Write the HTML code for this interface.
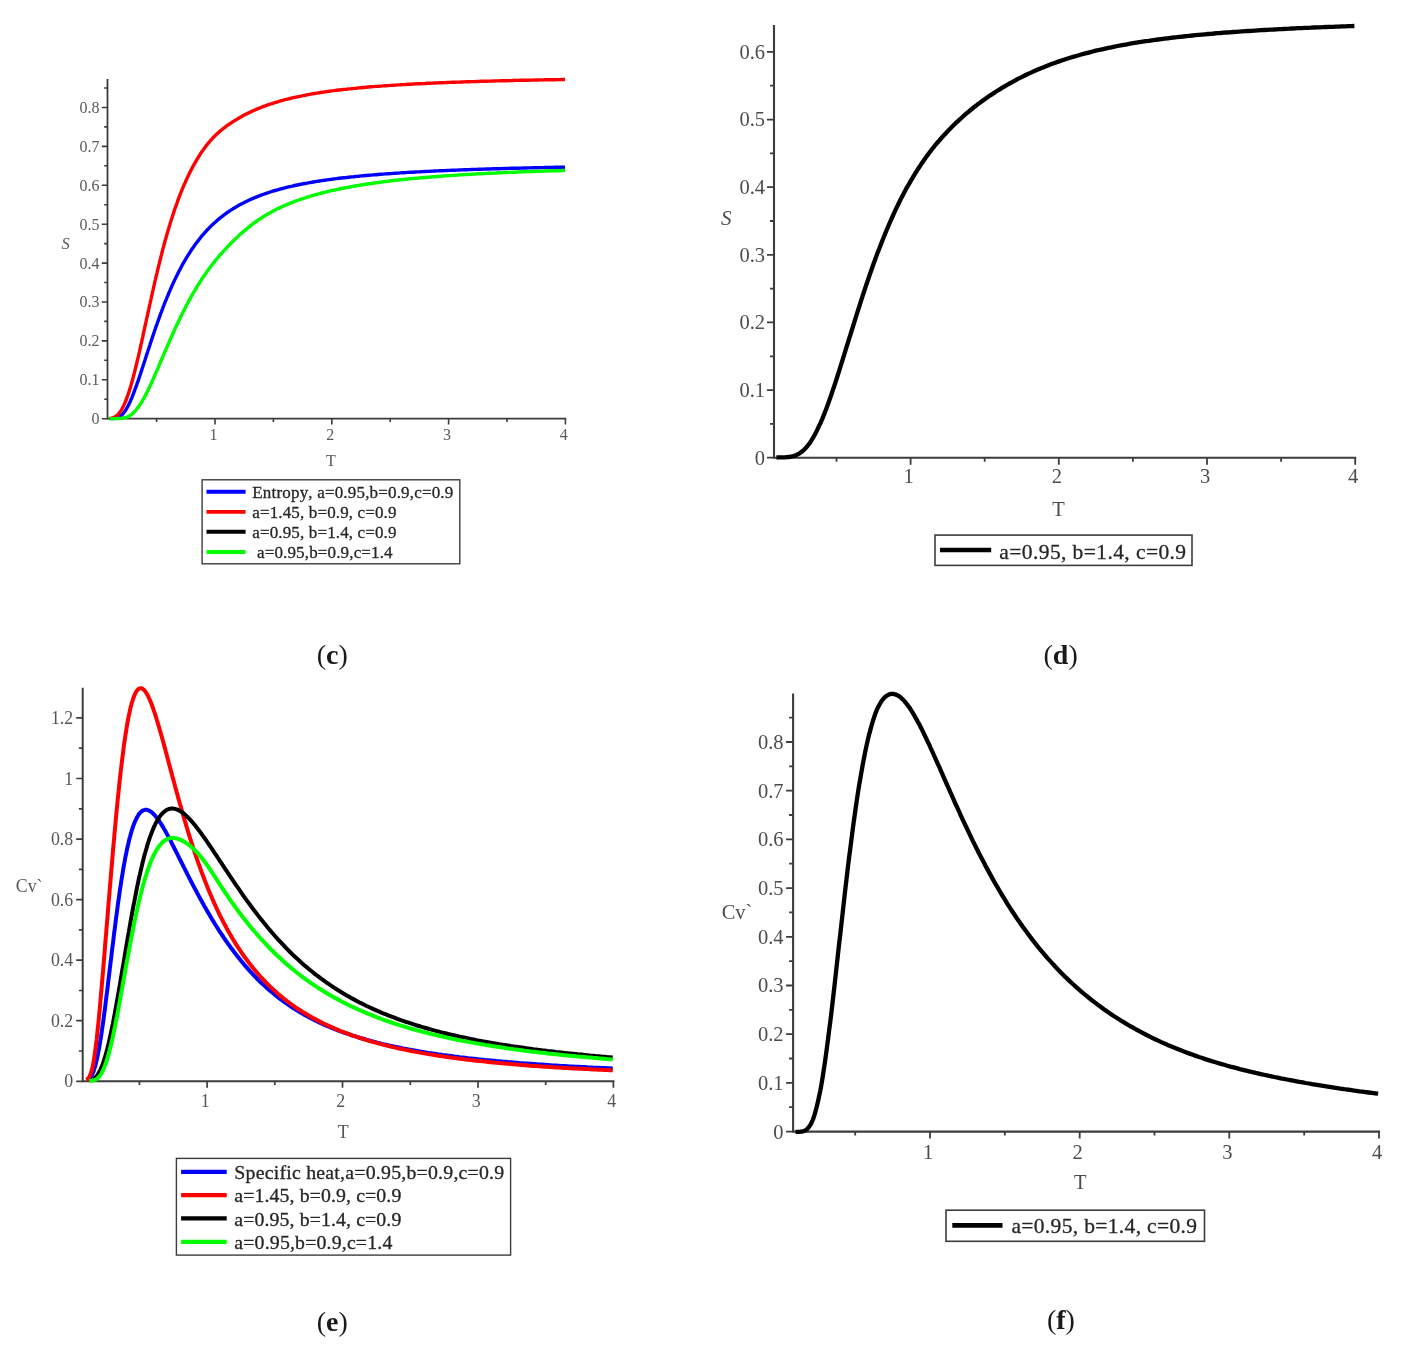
<!DOCTYPE html>
<html lang="en"><head><meta charset="utf-8"><title>Entropy and specific heat</title>
<style>
html,body{margin:0;padding:0;background:#fff;}
body{width:1414px;height:1350px;overflow:hidden;}
svg{display:block;}
text{font-family:"Liberation Serif",serif;font-kerning:none;white-space:pre;}
</style></head><body>
<svg width="1414" height="1350" viewBox="0 0 1414 1350">
<rect width="1414" height="1350" fill="#fff"/>
<g class="panel" aria-label="Figure panel c">
<path d="M107.5 79.8 V418.7 H565.4" fill="none" stroke="#3c3c3c" stroke-width="1.80" stroke-linecap="square"/>
<text x="213.4" y="439.9" font-size="16.00" text-anchor="middle" fill="#5a5a5a">1</text>
<text x="330.2" y="439.9" font-size="16.00" text-anchor="middle" fill="#5a5a5a">2</text>
<text x="447.0" y="439.9" font-size="16.00" text-anchor="middle" fill="#5a5a5a">3</text>
<text x="563.8" y="439.9" font-size="16.00" text-anchor="middle" fill="#5a5a5a">4</text>
<text x="99.5" y="424.1" font-size="16.00" text-anchor="end" fill="#5a5a5a">0</text>
<text x="99.5" y="385.2" font-size="16.00" text-anchor="end" fill="#5a5a5a">0.1</text>
<text x="99.5" y="346.3" font-size="16.00" text-anchor="end" fill="#5a5a5a">0.2</text>
<text x="99.5" y="307.4" font-size="16.00" text-anchor="end" fill="#5a5a5a">0.3</text>
<text x="99.5" y="268.5" font-size="16.00" text-anchor="end" fill="#5a5a5a">0.4</text>
<text x="99.5" y="229.6" font-size="16.00" text-anchor="end" fill="#5a5a5a">0.5</text>
<text x="99.5" y="190.7" font-size="16.00" text-anchor="end" fill="#5a5a5a">0.6</text>
<text x="99.5" y="151.8" font-size="16.00" text-anchor="end" fill="#5a5a5a">0.7</text>
<text x="99.5" y="112.9" font-size="16.00" text-anchor="end" fill="#5a5a5a">0.8</text>
<path d="M156.6 418.7 v3.3 M215.0 418.7 v5.7 M273.4 418.7 v3.3 M331.8 418.7 v5.7 M390.2 418.7 v3.3 M448.6 418.7 v5.7 M507.0 418.7 v3.3 M565.4 418.7 v5.7 M107.5 418.7 h-5.7 M107.5 399.2 h-3.3 M107.5 379.8 h-5.7 M107.5 360.3 h-3.3 M107.5 340.9 h-5.7 M107.5 321.4 h-3.3 M107.5 302.0 h-5.7 M107.5 282.5 h-3.3 M107.5 263.1 h-5.7 M107.5 243.6 h-3.3 M107.5 224.2 h-5.7 M107.5 204.7 h-3.3 M107.5 185.3 h-5.7 M107.5 165.8 h-3.3 M107.5 146.4 h-5.7 M107.5 126.9 h-3.3 M107.5 107.5 h-5.7 M107.5 88.0 h-3.3" fill="none" stroke="#3c3c3c" stroke-width="1.60"/>
<path d="M109.5 418.6 L110.1 418.6 L110.6 418.6 L111.2 418.6 L111.7 418.6 L112.3 418.6 L112.8 418.5 L113.4 418.5 L113.9 418.5 L114.5 418.4 L115.0 418.3 L115.6 418.2 L116.1 418.1 L116.7 418.0 L117.2 417.8 L117.8 417.6 L118.3 417.4 L118.9 417.1 L119.5 416.8 L120.0 416.4 L120.6 416.0 L121.1 415.6 L121.7 415.1 L122.2 414.6 L122.8 414.0 L123.3 413.4 L123.9 412.7 L124.4 411.9 L125.0 411.2 L125.5 410.3 L126.1 409.5 L126.6 408.5 L127.2 407.6 L127.7 406.5 L128.3 405.5 L128.9 404.4 L129.4 403.2 L130.0 402.0 L130.5 400.8 L131.1 399.5 L131.6 398.2 L132.2 396.9 L132.7 395.5 L133.3 394.1 L133.8 392.7 L134.4 391.2 L134.9 389.7 L135.5 388.2 L136.0 386.7 L136.6 385.1 L137.1 383.6 L137.7 382.0 L138.3 380.4 L138.8 378.7 L139.4 377.1 L139.9 375.4 L140.5 373.8 L141.0 372.1 L141.6 370.4 L142.1 368.8 L142.7 367.1 L143.2 365.4 L143.8 363.7 L144.3 362.0 L144.9 360.3 L145.4 358.5 L146.0 356.8 L146.5 355.1 L147.1 353.4 L147.7 351.7 L148.2 350.0 L148.8 348.3 L149.3 346.7 L149.9 345.0 L150.4 343.3 L151.0 341.6 L151.5 339.9 L152.1 338.3 L152.6 336.6 L153.2 335.0 L153.7 333.4 L154.3 331.7 L154.8 330.1 L155.4 328.5 L155.9 326.9 L156.5 325.3 L157.1 323.8 L157.6 322.2 L158.2 320.6 L158.7 319.1 L159.3 317.6 L159.8 316.1 L160.4 314.5 L160.9 313.1 L161.5 311.6 L162.0 310.1 L162.6 308.6 L163.1 307.2 L163.7 305.8 L164.2 304.3 L164.8 302.9 L165.3 301.5 L165.9 300.2 L166.5 298.8 L167.0 297.4 L167.6 296.1 L168.1 294.8 L168.7 293.5 L169.2 292.2 L169.8 290.9 L170.3 289.6 L170.9 288.3 L171.4 287.1 L172.0 285.8 L172.5 284.6 L173.1 283.4 L173.6 282.2 L174.2 281.0 L174.7 279.8 L175.3 278.7 L175.9 277.5 L176.4 276.4 L177.0 275.3 L177.5 274.2 L178.1 273.1 L178.6 272.0 L179.2 270.9 L179.7 269.8 L180.3 268.8 L180.8 267.8 L181.4 266.7 L181.9 265.7 L182.5 264.7 L183.0 263.7 L183.6 262.7 L184.1 261.8 L184.7 260.8 L185.3 259.9 L185.8 258.9 L186.4 258.0 L186.9 257.1 L187.5 256.2 L188.0 255.3 L188.6 254.4 L189.1 253.5 L189.7 252.7 L190.2 251.8 L190.8 251.0 L191.3 250.1 L191.9 249.3 L192.4 248.5 L193.0 247.7 L193.6 246.9 L194.1 246.1 L194.7 245.3 L195.2 244.6 L195.8 243.8 L196.3 243.1 L196.9 242.3 L197.4 241.6 L198.0 240.9 L198.5 240.2 L199.1 239.4 L199.6 238.8 L200.2 238.1 L200.7 237.4 L201.3 236.7 L201.8 236.0 L202.4 235.4 L203.0 234.7 L203.5 234.1 L204.1 233.5 L204.6 232.8 L205.2 232.2 L205.7 231.6 L206.3 231.0 L206.8 230.4 L207.4 229.8 L207.9 229.2 L208.5 228.7 L209.0 228.1 L209.6 227.5 L210.1 227.0 L210.7 226.4 L211.2 225.9 L211.8 225.3 L212.4 224.8 L212.9 224.3 L213.5 223.8 L214.0 223.2 L214.6 222.7 L215.1 222.2 L215.7 221.7 L216.2 221.3 L216.8 220.8 L217.3 220.3 L217.9 219.8 L218.4 219.4 L219.0 218.9 L219.5 218.4 L220.1 218.0 L220.6 217.5 L221.2 217.1 L221.8 216.7 L222.3 216.2 L222.9 215.8 L223.4 215.4 L224.0 215.0 L224.5 214.6 L225.1 214.1 L225.6 213.7 L226.2 213.3 L226.7 212.9 L227.3 212.6 L227.8 212.2 L228.4 211.8 L228.9 211.4 L229.5 211.0 L230.0 210.7 L230.6 210.3 L231.2 209.9 L231.7 209.6 L232.3 209.2 L232.8 208.9 L233.4 208.5 L233.9 208.2 L234.5 207.9 L235.0 207.5 L235.6 207.2 L236.1 206.9 L236.7 206.6 L237.2 206.2 L237.8 205.9 L238.3 205.6 L240.8 204.2 L243.3 203.0 L245.7 201.7 L248.2 200.6 L250.6 199.4 L253.1 198.4 L255.5 197.3 L258.0 196.3 L260.4 195.4 L262.9 194.5 L265.4 193.6 L267.8 192.8 L270.3 192.0 L272.7 191.2 L275.2 190.5 L277.6 189.8 L280.1 189.1 L282.5 188.5 L285.0 187.8 L287.5 187.2 L289.9 186.6 L292.4 186.1 L294.8 185.5 L297.3 185.0 L299.7 184.5 L302.2 184.0 L304.7 183.5 L307.1 183.1 L309.6 182.6 L312.0 182.2 L314.5 181.8 L316.9 181.4 L319.4 181.0 L321.8 180.6 L324.3 180.3 L326.8 179.9 L329.2 179.6 L331.7 179.3 L334.1 178.9 L336.6 178.6 L339.0 178.3 L341.5 178.0 L344.0 177.7 L346.4 177.5 L348.9 177.2 L351.3 176.9 L353.8 176.7 L356.2 176.4 L358.7 176.2 L361.1 175.9 L363.6 175.7 L366.1 175.5 L368.5 175.3 L371.0 175.1 L373.4 174.9 L375.9 174.7 L378.3 174.5 L380.8 174.3 L383.2 174.1 L385.7 173.9 L388.2 173.7 L390.6 173.6 L393.1 173.4 L395.5 173.2 L398.0 173.1 L400.4 172.9 L402.9 172.7 L405.4 172.6 L407.8 172.4 L410.3 172.3 L412.7 172.2 L415.2 172.0 L417.6 171.9 L420.1 171.8 L422.5 171.6 L425.0 171.5 L427.5 171.4 L429.9 171.3 L432.4 171.1 L434.8 171.0 L437.3 170.9 L439.7 170.8 L442.2 170.7 L444.7 170.6 L447.1 170.5 L449.6 170.4 L452.0 170.3 L454.5 170.2 L456.9 170.1 L459.4 170.0 L461.8 169.9 L464.3 169.8 L466.8 169.7 L469.2 169.6 L471.7 169.5 L474.1 169.4 L476.6 169.4 L479.0 169.3 L481.5 169.2 L483.9 169.1 L486.4 169.0 L488.9 169.0 L491.3 168.9 L493.8 168.8 L496.2 168.8 L498.7 168.7 L501.1 168.6 L503.6 168.5 L506.1 168.5 L508.5 168.4 L511.0 168.3 L513.4 168.3 L515.9 168.2 L518.3 168.2 L520.8 168.1 L523.2 168.0 L525.7 168.0 L528.2 167.9 L530.6 167.9 L533.1 167.8 L535.5 167.7 L538.0 167.7 L540.4 167.6 L542.9 167.6 L545.4 167.5 L547.8 167.5 L550.3 167.4 L552.7 167.4 L555.2 167.3 L557.6 167.3 L560.1 167.2 L562.5 167.2 L565.0 167.2" fill="none" stroke="#0000ff" stroke-width="3.40" stroke-linejoin="round" stroke-linecap="butt"/>
<path d="M109.5 418.4 L110.1 418.4 L110.6 418.3 L111.2 418.2 L111.7 418.1 L112.3 418.0 L112.8 417.8 L113.4 417.6 L113.9 417.4 L114.5 417.1 L115.0 416.8 L115.6 416.5 L116.1 416.1 L116.7 415.6 L117.2 415.2 L117.8 414.6 L118.3 414.1 L118.9 413.4 L119.5 412.7 L120.0 412.0 L120.6 411.2 L121.1 410.4 L121.7 409.4 L122.2 408.5 L122.8 407.4 L123.3 406.3 L123.9 405.2 L124.4 404.0 L125.0 402.7 L125.5 401.4 L126.1 400.0 L126.6 398.5 L127.2 397.0 L127.7 395.5 L128.3 393.8 L128.9 392.2 L129.4 390.4 L130.0 388.6 L130.5 386.8 L131.1 384.9 L131.6 383.0 L132.2 381.0 L132.7 379.0 L133.3 376.9 L133.8 374.8 L134.4 372.7 L134.9 370.5 L135.5 368.3 L136.0 366.0 L136.6 363.8 L137.1 361.4 L137.7 359.1 L138.3 356.7 L138.8 354.3 L139.4 351.9 L139.9 349.5 L140.5 347.0 L141.0 344.6 L141.6 342.1 L142.1 339.6 L142.7 337.1 L143.2 334.6 L143.8 332.0 L144.3 329.5 L144.9 327.0 L145.4 324.4 L146.0 321.9 L146.5 319.3 L147.1 316.8 L147.7 314.2 L148.2 311.7 L148.8 309.2 L149.3 306.7 L149.9 304.1 L150.4 301.6 L151.0 299.1 L151.5 296.6 L152.1 294.2 L152.6 291.7 L153.2 289.3 L153.7 286.8 L154.3 284.4 L154.8 282.0 L155.4 279.6 L155.9 277.2 L156.5 274.9 L157.1 272.6 L157.6 270.2 L158.2 268.0 L158.7 265.7 L159.3 263.4 L159.8 261.2 L160.4 259.0 L160.9 256.8 L161.5 254.6 L162.0 252.5 L162.6 250.3 L163.1 248.2 L163.7 246.2 L164.2 244.1 L164.8 242.1 L165.3 240.0 L165.9 238.1 L166.5 236.1 L167.0 234.1 L167.6 232.2 L168.1 230.3 L168.7 228.5 L169.2 226.6 L169.8 224.8 L170.3 223.0 L170.9 221.2 L171.4 219.4 L172.0 217.7 L172.5 216.0 L173.1 214.3 L173.6 212.6 L174.2 210.9 L174.7 209.3 L175.3 207.7 L175.9 206.1 L176.4 204.6 L177.0 203.0 L177.5 201.5 L178.1 200.0 L178.6 198.5 L179.2 197.0 L179.7 195.6 L180.3 194.2 L180.8 192.8 L181.4 191.4 L181.9 190.0 L182.5 188.7 L183.0 187.3 L183.6 186.0 L184.1 184.7 L184.7 183.5 L185.3 182.2 L185.8 181.0 L186.4 179.8 L186.9 178.6 L187.5 177.4 L188.0 176.2 L188.6 175.1 L189.1 173.9 L189.7 172.8 L190.2 171.7 L190.8 170.6 L191.3 169.5 L191.9 168.5 L192.4 167.4 L193.0 166.4 L193.6 165.4 L194.1 164.4 L194.7 163.4 L195.2 162.4 L195.8 161.5 L196.3 160.5 L196.9 159.6 L197.4 158.7 L198.0 157.8 L198.5 156.9 L199.1 156.0 L199.6 155.1 L200.2 154.3 L200.7 153.4 L201.3 152.6 L201.8 151.8 L202.4 151.0 L203.0 150.2 L203.5 149.4 L204.1 148.6 L204.6 147.9 L205.2 147.1 L205.7 146.4 L206.3 145.7 L206.8 145.0 L207.4 144.3 L207.9 143.6 L208.5 142.9 L209.0 142.3 L209.6 141.6 L210.1 141.0 L210.7 140.3 L211.2 139.7 L211.8 139.1 L212.4 138.5 L212.9 137.9 L213.5 137.4 L214.0 136.8 L214.6 136.2 L215.1 135.7 L215.7 135.2 L216.2 134.6 L216.8 134.1 L217.3 133.6 L217.9 133.1 L218.4 132.6 L219.0 132.1 L219.5 131.6 L220.1 131.1 L220.6 130.7 L221.2 130.2 L221.8 129.8 L222.3 129.3 L222.9 128.9 L223.4 128.4 L224.0 128.0 L224.5 127.6 L225.1 127.2 L225.6 126.7 L226.2 126.3 L226.7 125.9 L227.3 125.5 L227.8 125.1 L228.4 124.7 L228.9 124.4 L229.5 124.0 L230.0 123.6 L230.6 123.2 L231.2 122.9 L231.7 122.5 L232.3 122.1 L232.8 121.8 L233.4 121.4 L233.9 121.1 L234.5 120.7 L235.0 120.4 L235.6 120.0 L236.1 119.7 L236.7 119.4 L237.2 119.0 L237.8 118.7 L238.3 118.4 L240.8 117.0 L243.3 115.6 L245.7 114.3 L248.2 113.1 L250.6 111.9 L253.1 110.8 L255.5 109.7 L258.0 108.7 L260.4 107.7 L262.9 106.7 L265.4 105.8 L267.8 104.9 L270.3 104.1 L272.7 103.3 L275.2 102.5 L277.6 101.8 L280.1 101.0 L282.5 100.4 L285.0 99.7 L287.5 99.1 L289.9 98.5 L292.4 97.9 L294.8 97.3 L297.3 96.8 L299.7 96.3 L302.2 95.8 L304.7 95.3 L307.1 94.8 L309.6 94.4 L312.0 93.9 L314.5 93.5 L316.9 93.1 L319.4 92.7 L321.8 92.3 L324.3 92.0 L326.8 91.6 L329.2 91.3 L331.7 90.9 L334.1 90.6 L336.6 90.3 L339.0 90.0 L341.5 89.7 L344.0 89.4 L346.4 89.2 L348.9 88.9 L351.3 88.7 L353.8 88.4 L356.2 88.2 L358.7 87.9 L361.1 87.7 L363.6 87.5 L366.1 87.3 L368.5 87.0 L371.0 86.8 L373.4 86.6 L375.9 86.4 L378.3 86.3 L380.8 86.1 L383.2 85.9 L385.7 85.7 L388.2 85.6 L390.6 85.4 L393.1 85.2 L395.5 85.1 L398.0 84.9 L400.4 84.8 L402.9 84.6 L405.4 84.5 L407.8 84.3 L410.3 84.2 L412.7 84.1 L415.2 83.9 L417.6 83.8 L420.1 83.7 L422.5 83.6 L425.0 83.5 L427.5 83.3 L429.9 83.2 L432.4 83.1 L434.8 83.0 L437.3 82.9 L439.7 82.8 L442.2 82.7 L444.7 82.6 L447.1 82.5 L449.6 82.4 L452.0 82.3 L454.5 82.2 L456.9 82.1 L459.4 82.1 L461.8 82.0 L464.3 81.9 L466.8 81.8 L469.2 81.7 L471.7 81.6 L474.1 81.6 L476.6 81.5 L479.0 81.4 L481.5 81.3 L483.9 81.3 L486.4 81.2 L488.9 81.1 L491.3 81.1 L493.8 81.0 L496.2 80.9 L498.7 80.9 L501.1 80.8 L503.6 80.7 L506.1 80.7 L508.5 80.6 L511.0 80.6 L513.4 80.5 L515.9 80.4 L518.3 80.4 L520.8 80.3 L523.2 80.3 L525.7 80.2 L528.2 80.2 L530.6 80.1 L533.1 80.1 L535.5 80.0 L538.0 80.0 L540.4 79.9 L542.9 79.9 L545.4 79.8 L547.8 79.8 L550.3 79.7 L552.7 79.7 L555.2 79.7 L557.6 79.6 L560.1 79.6 L562.5 79.5 L565.0 79.5" fill="none" stroke="#ff0000" stroke-width="3.40" stroke-linejoin="round" stroke-linecap="butt"/>
<path d="M109.5 418.6 L110.1 418.6 L110.6 418.6 L111.2 418.6 L111.7 418.6 L112.3 418.6 L112.8 418.6 L113.4 418.6 L113.9 418.6 L114.5 418.6 L115.0 418.6 L115.6 418.6 L116.1 418.6 L116.7 418.6 L117.2 418.6 L117.8 418.6 L118.3 418.5 L118.9 418.5 L119.5 418.5 L120.0 418.5 L120.6 418.4 L121.1 418.4 L121.7 418.3 L122.2 418.3 L122.8 418.2 L123.3 418.1 L123.9 418.0 L124.4 417.8 L125.0 417.7 L125.5 417.5 L126.1 417.4 L126.6 417.2 L127.2 417.0 L127.7 416.7 L128.3 416.4 L128.9 416.2 L129.4 415.8 L130.0 415.5 L130.5 415.1 L131.1 414.8 L131.6 414.3 L132.2 413.9 L132.7 413.4 L133.3 412.9 L133.8 412.4 L134.4 411.8 L134.9 411.2 L135.5 410.6 L136.0 410.0 L136.6 409.3 L137.1 408.6 L137.7 407.9 L138.3 407.2 L138.8 406.4 L139.4 405.6 L139.9 404.7 L140.5 403.9 L141.0 403.0 L141.6 402.1 L142.1 401.2 L142.7 400.3 L143.2 399.3 L143.8 398.3 L144.3 397.3 L144.9 396.3 L145.4 395.2 L146.0 394.2 L146.5 393.1 L147.1 392.0 L147.7 390.9 L148.2 389.7 L148.8 388.6 L149.3 387.4 L149.9 386.3 L150.4 385.1 L151.0 383.9 L151.5 382.7 L152.1 381.5 L152.6 380.2 L153.2 379.0 L153.7 377.8 L154.3 376.5 L154.8 375.3 L155.4 374.0 L155.9 372.7 L156.5 371.4 L157.1 370.2 L157.6 368.9 L158.2 367.6 L158.7 366.3 L159.3 365.0 L159.8 363.7 L160.4 362.4 L160.9 361.1 L161.5 359.8 L162.0 358.5 L162.6 357.2 L163.1 355.9 L163.7 354.6 L164.2 353.3 L164.8 352.1 L165.3 350.8 L165.9 349.5 L166.5 348.2 L167.0 346.9 L167.6 345.6 L168.1 344.4 L168.7 343.1 L169.2 341.8 L169.8 340.5 L170.3 339.3 L170.9 338.0 L171.4 336.8 L172.0 335.5 L172.5 334.3 L173.1 333.1 L173.6 331.9 L174.2 330.6 L174.7 329.4 L175.3 328.2 L175.9 327.0 L176.4 325.8 L177.0 324.6 L177.5 323.5 L178.1 322.3 L178.6 321.1 L179.2 320.0 L179.7 318.8 L180.3 317.7 L180.8 316.5 L181.4 315.4 L181.9 314.3 L182.5 313.2 L183.0 312.1 L183.6 311.0 L184.1 309.9 L184.7 308.8 L185.3 307.7 L185.8 306.6 L186.4 305.6 L186.9 304.5 L187.5 303.5 L188.0 302.4 L188.6 301.4 L189.1 300.4 L189.7 299.4 L190.2 298.4 L190.8 297.4 L191.3 296.4 L191.9 295.4 L192.4 294.4 L193.0 293.5 L193.6 292.5 L194.1 291.6 L194.7 290.6 L195.2 289.7 L195.8 288.8 L196.3 287.9 L196.9 286.9 L197.4 286.0 L198.0 285.2 L198.5 284.3 L199.1 283.4 L199.6 282.5 L200.2 281.6 L200.7 280.8 L201.3 279.9 L201.8 279.1 L202.4 278.3 L203.0 277.4 L203.5 276.6 L204.1 275.8 L204.6 275.0 L205.2 274.2 L205.7 273.4 L206.3 272.6 L206.8 271.8 L207.4 271.1 L207.9 270.3 L208.5 269.5 L209.0 268.8 L209.6 268.1 L210.1 267.3 L210.7 266.6 L211.2 265.9 L211.8 265.1 L212.4 264.4 L212.9 263.7 L213.5 263.0 L214.0 262.3 L214.6 261.6 L215.1 260.9 L215.7 260.3 L216.2 259.6 L216.8 258.9 L217.3 258.3 L217.9 257.6 L218.4 256.9 L219.0 256.3 L219.5 255.7 L220.1 255.0 L220.6 254.4 L221.2 253.7 L221.8 253.1 L222.3 252.5 L222.9 251.9 L223.4 251.3 L224.0 250.7 L224.5 250.1 L225.1 249.4 L225.6 248.9 L226.2 248.3 L226.7 247.7 L227.3 247.1 L227.8 246.5 L228.4 245.9 L228.9 245.3 L229.5 244.8 L230.0 244.2 L230.6 243.6 L231.2 243.1 L231.7 242.5 L232.3 242.0 L232.8 241.4 L233.4 240.9 L233.9 240.3 L234.5 239.8 L235.0 239.2 L235.6 238.7 L236.1 238.2 L236.7 237.6 L237.2 237.1 L237.8 236.6 L238.3 236.1 L240.8 233.8 L243.3 231.7 L245.7 229.6 L248.2 227.6 L250.6 225.6 L253.1 223.7 L255.5 222.0 L258.0 220.2 L260.4 218.6 L262.9 217.0 L265.4 215.5 L267.8 214.0 L270.3 212.7 L272.7 211.3 L275.2 210.0 L277.6 208.8 L280.1 207.6 L282.5 206.5 L285.0 205.4 L287.5 204.4 L289.9 203.3 L292.4 202.4 L294.8 201.4 L297.3 200.5 L299.7 199.7 L302.2 198.8 L304.7 198.0 L307.1 197.2 L309.6 196.5 L312.0 195.7 L314.5 195.0 L316.9 194.3 L319.4 193.7 L321.8 193.0 L324.3 192.4 L326.8 191.8 L329.2 191.2 L331.7 190.6 L334.1 190.1 L336.6 189.6 L339.0 189.0 L341.5 188.5 L344.0 188.0 L346.4 187.6 L348.9 187.1 L351.3 186.7 L353.8 186.2 L356.2 185.8 L358.7 185.4 L361.1 185.0 L363.6 184.6 L366.1 184.2 L368.5 183.8 L371.0 183.5 L373.4 183.1 L375.9 182.8 L378.3 182.5 L380.8 182.1 L383.2 181.8 L385.7 181.5 L388.2 181.2 L390.6 180.9 L393.1 180.6 L395.5 180.3 L398.0 180.1 L400.4 179.8 L402.9 179.5 L405.4 179.3 L407.8 179.0 L410.3 178.8 L412.7 178.6 L415.2 178.3 L417.6 178.1 L420.1 177.9 L422.5 177.7 L425.0 177.5 L427.5 177.3 L429.9 177.1 L432.4 176.9 L434.8 176.7 L437.3 176.5 L439.7 176.3 L442.2 176.1 L444.7 175.9 L447.1 175.8 L449.6 175.6 L452.0 175.4 L454.5 175.3 L456.9 175.1 L459.4 174.9 L461.8 174.8 L464.3 174.6 L466.8 174.5 L469.2 174.4 L471.7 174.2 L474.1 174.1 L476.6 173.9 L479.0 173.8 L481.5 173.7 L483.9 173.6 L486.4 173.4 L488.9 173.3 L491.3 173.2 L493.8 173.1 L496.2 173.0 L498.7 172.8 L501.1 172.7 L503.6 172.6 L506.1 172.5 L508.5 172.4 L511.0 172.3 L513.4 172.2 L515.9 172.1 L518.3 172.0 L520.8 171.9 L523.2 171.8 L525.7 171.7 L528.2 171.6 L530.6 171.5 L533.1 171.5 L535.5 171.4 L538.0 171.3 L540.4 171.2 L542.9 171.1 L545.4 171.0 L547.8 171.0 L550.3 170.9 L552.7 170.8 L555.2 170.7 L557.6 170.7 L560.1 170.6 L562.5 170.5 L565.0 170.4" fill="none" stroke="#000000" stroke-width="2.20" stroke-linejoin="round" stroke-linecap="butt"/>
<path d="M109.5 418.6 L110.1 418.6 L110.6 418.6 L111.2 418.6 L111.7 418.6 L112.3 418.6 L112.8 418.6 L113.4 418.6 L113.9 418.6 L114.5 418.6 L115.0 418.6 L115.6 418.6 L116.1 418.6 L116.7 418.6 L117.2 418.6 L117.8 418.6 L118.3 418.5 L118.9 418.5 L119.5 418.5 L120.0 418.5 L120.6 418.4 L121.1 418.4 L121.7 418.3 L122.2 418.3 L122.8 418.2 L123.3 418.1 L123.9 418.0 L124.4 417.8 L125.0 417.7 L125.5 417.5 L126.1 417.4 L126.6 417.2 L127.2 417.0 L127.7 416.7 L128.3 416.4 L128.9 416.2 L129.4 415.8 L130.0 415.5 L130.5 415.1 L131.1 414.8 L131.6 414.3 L132.2 413.9 L132.7 413.4 L133.3 412.9 L133.8 412.4 L134.4 411.8 L134.9 411.2 L135.5 410.6 L136.0 410.0 L136.6 409.3 L137.1 408.6 L137.7 407.9 L138.3 407.2 L138.8 406.4 L139.4 405.6 L139.9 404.7 L140.5 403.9 L141.0 403.0 L141.6 402.1 L142.1 401.2 L142.7 400.3 L143.2 399.3 L143.8 398.3 L144.3 397.3 L144.9 396.3 L145.4 395.2 L146.0 394.2 L146.5 393.1 L147.1 392.0 L147.7 390.9 L148.2 389.7 L148.8 388.6 L149.3 387.4 L149.9 386.3 L150.4 385.1 L151.0 383.9 L151.5 382.7 L152.1 381.5 L152.6 380.2 L153.2 379.0 L153.7 377.8 L154.3 376.5 L154.8 375.3 L155.4 374.0 L155.9 372.7 L156.5 371.4 L157.1 370.2 L157.6 368.9 L158.2 367.6 L158.7 366.3 L159.3 365.0 L159.8 363.7 L160.4 362.4 L160.9 361.1 L161.5 359.8 L162.0 358.5 L162.6 357.2 L163.1 355.9 L163.7 354.6 L164.2 353.3 L164.8 352.1 L165.3 350.8 L165.9 349.5 L166.5 348.2 L167.0 346.9 L167.6 345.6 L168.1 344.4 L168.7 343.1 L169.2 341.8 L169.8 340.5 L170.3 339.3 L170.9 338.0 L171.4 336.8 L172.0 335.5 L172.5 334.3 L173.1 333.1 L173.6 331.9 L174.2 330.6 L174.7 329.4 L175.3 328.2 L175.9 327.0 L176.4 325.8 L177.0 324.6 L177.5 323.5 L178.1 322.3 L178.6 321.1 L179.2 320.0 L179.7 318.8 L180.3 317.7 L180.8 316.5 L181.4 315.4 L181.9 314.3 L182.5 313.2 L183.0 312.1 L183.6 311.0 L184.1 309.9 L184.7 308.8 L185.3 307.7 L185.8 306.6 L186.4 305.6 L186.9 304.5 L187.5 303.5 L188.0 302.4 L188.6 301.4 L189.1 300.4 L189.7 299.4 L190.2 298.4 L190.8 297.4 L191.3 296.4 L191.9 295.4 L192.4 294.4 L193.0 293.5 L193.6 292.5 L194.1 291.6 L194.7 290.6 L195.2 289.7 L195.8 288.8 L196.3 287.9 L196.9 286.9 L197.4 286.0 L198.0 285.2 L198.5 284.3 L199.1 283.4 L199.6 282.5 L200.2 281.6 L200.7 280.8 L201.3 279.9 L201.8 279.1 L202.4 278.3 L203.0 277.4 L203.5 276.6 L204.1 275.8 L204.6 275.0 L205.2 274.2 L205.7 273.4 L206.3 272.6 L206.8 271.8 L207.4 271.1 L207.9 270.3 L208.5 269.5 L209.0 268.8 L209.6 268.1 L210.1 267.3 L210.7 266.6 L211.2 265.9 L211.8 265.1 L212.4 264.4 L212.9 263.7 L213.5 263.0 L214.0 262.3 L214.6 261.6 L215.1 260.9 L215.7 260.3 L216.2 259.6 L216.8 258.9 L217.3 258.3 L217.9 257.6 L218.4 256.9 L219.0 256.3 L219.5 255.7 L220.1 255.0 L220.6 254.4 L221.2 253.7 L221.8 253.1 L222.3 252.5 L222.9 251.9 L223.4 251.3 L224.0 250.7 L224.5 250.1 L225.1 249.4 L225.6 248.9 L226.2 248.3 L226.7 247.7 L227.3 247.1 L227.8 246.5 L228.4 245.9 L228.9 245.3 L229.5 244.8 L230.0 244.2 L230.6 243.6 L231.2 243.1 L231.7 242.5 L232.3 242.0 L232.8 241.4 L233.4 240.9 L233.9 240.3 L234.5 239.8 L235.0 239.2 L235.6 238.7 L236.1 238.2 L236.7 237.6 L237.2 237.1 L237.8 236.6 L238.3 236.1 L240.8 233.8 L243.3 231.7 L245.7 229.6 L248.2 227.6 L250.6 225.6 L253.1 223.7 L255.5 222.0 L258.0 220.2 L260.4 218.6 L262.9 217.0 L265.4 215.5 L267.8 214.0 L270.3 212.7 L272.7 211.3 L275.2 210.0 L277.6 208.8 L280.1 207.6 L282.5 206.5 L285.0 205.4 L287.5 204.4 L289.9 203.3 L292.4 202.4 L294.8 201.4 L297.3 200.5 L299.7 199.7 L302.2 198.8 L304.7 198.0 L307.1 197.2 L309.6 196.5 L312.0 195.7 L314.5 195.0 L316.9 194.3 L319.4 193.7 L321.8 193.0 L324.3 192.4 L326.8 191.8 L329.2 191.2 L331.7 190.6 L334.1 190.1 L336.6 189.6 L339.0 189.0 L341.5 188.5 L344.0 188.0 L346.4 187.6 L348.9 187.1 L351.3 186.7 L353.8 186.2 L356.2 185.8 L358.7 185.4 L361.1 185.0 L363.6 184.6 L366.1 184.2 L368.5 183.8 L371.0 183.5 L373.4 183.1 L375.9 182.8 L378.3 182.5 L380.8 182.1 L383.2 181.8 L385.7 181.5 L388.2 181.2 L390.6 180.9 L393.1 180.6 L395.5 180.3 L398.0 180.1 L400.4 179.8 L402.9 179.5 L405.4 179.3 L407.8 179.0 L410.3 178.8 L412.7 178.6 L415.2 178.3 L417.6 178.1 L420.1 177.9 L422.5 177.7 L425.0 177.5 L427.5 177.3 L429.9 177.1 L432.4 176.9 L434.8 176.7 L437.3 176.5 L439.7 176.3 L442.2 176.1 L444.7 175.9 L447.1 175.8 L449.6 175.6 L452.0 175.4 L454.5 175.3 L456.9 175.1 L459.4 174.9 L461.8 174.8 L464.3 174.6 L466.8 174.5 L469.2 174.4 L471.7 174.2 L474.1 174.1 L476.6 173.9 L479.0 173.8 L481.5 173.7 L483.9 173.6 L486.4 173.4 L488.9 173.3 L491.3 173.2 L493.8 173.1 L496.2 173.0 L498.7 172.8 L501.1 172.7 L503.6 172.6 L506.1 172.5 L508.5 172.4 L511.0 172.3 L513.4 172.2 L515.9 172.1 L518.3 172.0 L520.8 171.9 L523.2 171.8 L525.7 171.7 L528.2 171.6 L530.6 171.5 L533.1 171.5 L535.5 171.4 L538.0 171.3 L540.4 171.2 L542.9 171.1 L545.4 171.0 L547.8 171.0 L550.3 170.9 L552.7 170.8 L555.2 170.7 L557.6 170.7 L560.1 170.6 L562.5 170.5 L565.0 170.4" fill="none" stroke="#00ff00" stroke-width="3.40" stroke-linejoin="round" stroke-linecap="butt"/>
<text x="65.6" y="249.1" font-size="16.50" text-anchor="middle" fill="#5a5a5a" font-style="italic">S</text>
<text x="331.0" y="466.0" font-size="16.00" text-anchor="middle" fill="#5a5a5a">T</text>
<rect x="202.1" y="479.8" width="257.7" height="84.0" fill="#fff" stroke="#3c3c3c" stroke-width="1.40"/>
<path d="M206.5 491.8 H245.6" stroke="#0000ff" stroke-width="3.90"/>
<text x="252.3" y="497.9" font-size="17.00" text-anchor="start" fill="#262626" textLength="201.0" lengthAdjust="spacing" stroke="#262626" stroke-width="0.30">Entropy, a=0.95,b=0.9,c=0.9</text>
<path d="M206.5 511.9 H245.6" stroke="#ff0000" stroke-width="3.90"/>
<text x="252.3" y="518.0" font-size="17.00" text-anchor="start" fill="#262626" textLength="144.2" lengthAdjust="spacing" stroke="#262626" stroke-width="0.30">a=1.45, b=0.9, c=0.9</text>
<path d="M206.5 531.7 H245.6" stroke="#000000" stroke-width="3.90"/>
<text x="252.3" y="538.0" font-size="17.00" text-anchor="start" fill="#262626" textLength="144.2" lengthAdjust="spacing" stroke="#262626" stroke-width="0.30">a=0.95, b=1.4, c=0.9</text>
<path d="M206.5 552.0 H245.6" stroke="#00ff00" stroke-width="3.90"/>
<text x="257.0" y="558.0" font-size="17.00" text-anchor="start" fill="#262626" textLength="135.6" lengthAdjust="spacing" stroke="#262626" stroke-width="0.30">a=0.95,b=0.9,c=1.4</text>
<text class="cap" x="332.3" y="664.2" font-size="28.0" text-anchor="middle" fill="#1a1a1a">(<tspan font-weight="bold">c</tspan>)</text>
</g>
<g class="panel" aria-label="Figure panel d">
<path d="M774.0 26.1 V457.7 H1355.2" fill="none" stroke="#3c3c3c" stroke-width="2.10" stroke-linecap="square"/>
<text x="908.6" y="483.2" font-size="20.50" text-anchor="middle" fill="#4c4c4c">1</text>
<text x="1056.8" y="483.2" font-size="20.50" text-anchor="middle" fill="#4c4c4c">2</text>
<text x="1205.0" y="483.2" font-size="20.50" text-anchor="middle" fill="#4c4c4c">3</text>
<text x="1353.2" y="483.2" font-size="20.50" text-anchor="middle" fill="#4c4c4c">4</text>
<text x="765.0" y="464.6" font-size="20.50" text-anchor="end" fill="#4c4c4c">0</text>
<text x="765.0" y="396.9" font-size="20.50" text-anchor="end" fill="#4c4c4c">0.1</text>
<text x="765.0" y="329.3" font-size="20.50" text-anchor="end" fill="#4c4c4c">0.2</text>
<text x="765.0" y="261.7" font-size="20.50" text-anchor="end" fill="#4c4c4c">0.3</text>
<text x="765.0" y="194.0" font-size="20.50" text-anchor="end" fill="#4c4c4c">0.4</text>
<text x="765.0" y="126.4" font-size="20.50" text-anchor="end" fill="#4c4c4c">0.5</text>
<text x="765.0" y="58.8" font-size="20.50" text-anchor="end" fill="#4c4c4c">0.6</text>
<path d="M836.5 457.7 v4.0 M910.6 457.7 v7.0 M984.7 457.7 v4.0 M1058.8 457.7 v7.0 M1132.9 457.7 v4.0 M1207.0 457.7 v7.0 M1281.1 457.7 v4.0 M1355.2 457.7 v7.0 M774.0 457.7 h-7.0 M774.0 423.9 h-4.0 M774.0 390.1 h-7.0 M774.0 356.3 h-4.0 M774.0 322.4 h-7.0 M774.0 288.6 h-4.0 M774.0 254.8 h-7.0 M774.0 221.0 h-4.0 M774.0 187.2 h-7.0 M774.0 153.4 h-4.0 M774.0 119.6 h-7.0 M774.0 85.7 h-4.0 M774.0 51.9 h-7.0" fill="none" stroke="#3c3c3c" stroke-width="1.80"/>
<path d="M776.4 457.4 L777.1 457.4 L777.8 457.4 L778.5 457.4 L779.2 457.4 L779.9 457.4 L780.6 457.4 L781.3 457.4 L782.0 457.4 L782.7 457.4 L783.4 457.3 L784.1 457.3 L784.8 457.3 L785.5 457.3 L786.2 457.2 L786.9 457.2 L787.6 457.1 L788.3 457.0 L789.0 457.0 L789.7 456.9 L790.4 456.8 L791.2 456.6 L791.9 456.5 L792.6 456.3 L793.3 456.1 L794.0 455.9 L794.7 455.7 L795.4 455.4 L796.1 455.2 L796.8 454.8 L797.5 454.5 L798.2 454.1 L798.9 453.7 L799.6 453.3 L800.3 452.8 L801.0 452.3 L801.7 451.8 L802.4 451.2 L803.1 450.6 L803.8 450.0 L804.5 449.3 L805.2 448.6 L805.9 447.8 L806.6 447.0 L807.3 446.2 L808.0 445.3 L808.7 444.4 L809.4 443.4 L810.1 442.4 L810.8 441.4 L811.5 440.3 L812.2 439.2 L812.9 438.0 L813.6 436.8 L814.3 435.5 L815.0 434.3 L815.7 432.9 L816.4 431.6 L817.1 430.2 L817.8 428.7 L818.5 427.2 L819.2 425.7 L819.9 424.2 L820.7 422.6 L821.4 420.9 L822.1 419.3 L822.8 417.6 L823.5 415.9 L824.2 414.1 L824.9 412.3 L825.6 410.5 L826.3 408.7 L827.0 406.8 L827.7 404.9 L828.4 403.0 L829.1 401.0 L829.8 399.1 L830.5 397.1 L831.2 395.0 L831.9 393.0 L832.6 390.9 L833.3 388.8 L834.0 386.7 L834.7 384.6 L835.4 382.5 L836.1 380.3 L836.8 378.2 L837.5 376.0 L838.2 373.8 L838.9 371.6 L839.6 369.4 L840.3 367.2 L841.0 364.9 L841.7 362.7 L842.4 360.4 L843.1 358.2 L843.8 355.9 L844.5 353.7 L845.2 351.4 L845.9 349.1 L846.6 346.9 L847.3 344.6 L848.0 342.3 L848.7 340.0 L849.4 337.8 L850.2 335.5 L850.9 333.2 L851.6 330.9 L852.3 328.7 L853.0 326.4 L853.7 324.1 L854.4 321.9 L855.1 319.6 L855.8 317.4 L856.5 315.2 L857.2 312.9 L857.9 310.7 L858.6 308.5 L859.3 306.3 L860.0 304.1 L860.7 301.9 L861.4 299.7 L862.1 297.6 L862.8 295.4 L863.5 293.3 L864.2 291.1 L864.9 289.0 L865.6 286.9 L866.3 284.8 L867.0 282.7 L867.7 280.7 L868.4 278.6 L869.1 276.5 L869.8 274.5 L870.5 272.5 L871.2 270.5 L871.9 268.5 L872.6 266.5 L873.3 264.5 L874.0 262.6 L874.7 260.7 L875.4 258.7 L876.1 256.8 L876.8 254.9 L877.5 253.0 L878.2 251.2 L879.0 249.3 L879.7 247.5 L880.4 245.7 L881.1 243.9 L881.8 242.1 L882.5 240.3 L883.2 238.5 L883.9 236.8 L884.6 235.1 L885.3 233.3 L886.0 231.6 L886.7 230.0 L887.4 228.3 L888.1 226.6 L888.8 225.0 L889.5 223.4 L890.2 221.7 L890.9 220.2 L891.6 218.6 L892.3 217.0 L893.0 215.5 L893.7 213.9 L894.4 212.4 L895.1 210.9 L895.8 209.4 L896.5 207.9 L897.2 206.4 L897.9 205.0 L898.6 203.5 L899.3 202.1 L900.0 200.7 L900.7 199.3 L901.4 197.9 L902.1 196.6 L902.8 195.2 L903.5 193.9 L904.2 192.5 L904.9 191.2 L905.6 189.9 L906.3 188.6 L907.0 187.3 L907.7 186.1 L908.5 184.8 L909.2 183.6 L909.9 182.4 L910.6 181.1 L911.3 179.9 L912.0 178.8 L912.7 177.6 L913.4 176.4 L914.1 175.3 L914.8 174.1 L915.5 173.0 L916.2 171.9 L916.9 170.7 L917.6 169.6 L918.3 168.6 L919.0 167.5 L919.7 166.4 L920.4 165.4 L921.1 164.3 L921.8 163.3 L922.5 162.2 L923.2 161.2 L923.9 160.2 L924.6 159.2 L925.3 158.2 L926.0 157.3 L926.7 156.3 L927.4 155.3 L928.1 154.4 L928.8 153.5 L929.5 152.5 L930.2 151.6 L930.9 150.7 L931.6 149.8 L932.3 148.9 L933.0 148.0 L933.7 147.1 L934.4 146.2 L935.1 145.4 L935.8 144.5 L936.5 143.7 L937.3 142.8 L938.0 142.0 L938.7 141.2 L939.4 140.4 L940.1 139.5 L943.2 136.0 L946.3 132.7 L949.4 129.4 L952.5 126.3 L955.6 123.2 L958.8 120.3 L961.9 117.5 L965.0 114.7 L968.1 112.1 L971.2 109.5 L974.3 107.0 L977.4 104.6 L980.6 102.3 L983.7 100.0 L986.8 97.8 L989.9 95.6 L993.0 93.6 L996.1 91.5 L999.3 89.6 L1002.4 87.7 L1005.5 85.8 L1008.6 84.0 L1011.7 82.3 L1014.8 80.6 L1017.9 78.9 L1021.1 77.3 L1024.2 75.8 L1027.3 74.3 L1030.4 72.9 L1033.5 71.4 L1036.6 70.1 L1039.8 68.7 L1042.9 67.5 L1046.0 66.2 L1049.1 65.0 L1052.2 63.8 L1055.3 62.7 L1058.4 61.6 L1061.6 60.5 L1064.7 59.5 L1067.8 58.5 L1070.9 57.5 L1074.0 56.6 L1077.1 55.7 L1080.3 54.8 L1083.4 53.9 L1086.5 53.1 L1089.6 52.3 L1092.7 51.5 L1095.8 50.7 L1098.9 50.0 L1102.1 49.3 L1105.2 48.6 L1108.3 47.9 L1111.4 47.3 L1114.5 46.6 L1117.6 46.0 L1120.7 45.4 L1123.9 44.8 L1127.0 44.3 L1130.1 43.7 L1133.2 43.2 L1136.3 42.7 L1139.4 42.2 L1142.6 41.7 L1145.7 41.2 L1148.8 40.8 L1151.9 40.3 L1155.0 39.9 L1158.1 39.5 L1161.2 39.1 L1164.4 38.7 L1167.5 38.3 L1170.6 37.9 L1173.7 37.5 L1176.8 37.2 L1179.9 36.8 L1183.1 36.5 L1186.2 36.1 L1189.3 35.8 L1192.4 35.5 L1195.5 35.2 L1198.6 34.9 L1201.7 34.6 L1204.9 34.3 L1208.0 34.0 L1211.1 33.8 L1214.2 33.5 L1217.3 33.2 L1220.4 33.0 L1223.6 32.7 L1226.7 32.5 L1229.8 32.3 L1232.9 32.0 L1236.0 31.8 L1239.1 31.6 L1242.2 31.4 L1245.4 31.2 L1248.5 31.0 L1251.6 30.8 L1254.7 30.6 L1257.8 30.4 L1260.9 30.2 L1264.1 30.0 L1267.2 29.8 L1270.3 29.6 L1273.4 29.5 L1276.5 29.3 L1279.6 29.1 L1282.7 29.0 L1285.9 28.8 L1289.0 28.7 L1292.1 28.5 L1295.2 28.4 L1298.3 28.2 L1301.4 28.1 L1304.6 27.9 L1307.7 27.8 L1310.8 27.7 L1313.9 27.5 L1317.0 27.4 L1320.1 27.3 L1323.2 27.1 L1326.4 27.0 L1329.5 26.9 L1332.6 26.8 L1335.7 26.7 L1338.8 26.6 L1341.9 26.4 L1345.1 26.3 L1348.2 26.2 L1351.3 26.1 L1354.4 26.0" fill="none" stroke="#000000" stroke-width="4.30" stroke-linejoin="round" stroke-linecap="butt"/>
<text x="726.3" y="224.7" font-size="21.00" text-anchor="middle" fill="#4c4c4c" font-style="italic">S</text>
<text x="1058.4" y="515.5" font-size="20.50" text-anchor="middle" fill="#4c4c4c">T</text>
<rect x="935.0" y="535.1" width="257.0" height="30.3" fill="#fff" stroke="#3c3c3c" stroke-width="1.60"/>
<path d="M940.0 550.0 H991.2" stroke="#000000" stroke-width="4.70"/>
<text x="999.3" y="558.6" font-size="21.50" text-anchor="start" fill="#262626" textLength="186.8" lengthAdjust="spacing" stroke="#262626" stroke-width="0.30">a=0.95, b=1.4, c=0.9</text>
<text class="cap" x="1060.6" y="663.8" font-size="28.0" text-anchor="middle" fill="#1a1a1a">(<tspan font-weight="bold">d</tspan>)</text>
</g>
<g class="panel" aria-label="Figure panel e">
<path d="M82.7 688.7 V1081.3 H613.4" fill="none" stroke="#3c3c3c" stroke-width="2.00" stroke-linecap="square"/>
<text x="205.3" y="1106.5" font-size="17.80" text-anchor="middle" fill="#555555">1</text>
<text x="340.8" y="1106.5" font-size="17.80" text-anchor="middle" fill="#555555">2</text>
<text x="476.2" y="1106.5" font-size="17.80" text-anchor="middle" fill="#555555">3</text>
<text x="611.7" y="1106.5" font-size="17.80" text-anchor="middle" fill="#555555">4</text>
<text x="73.2" y="1087.3" font-size="17.80" text-anchor="end" fill="#555555">0</text>
<text x="73.2" y="1026.7" font-size="17.80" text-anchor="end" fill="#555555">0.2</text>
<text x="73.2" y="966.1" font-size="17.80" text-anchor="end" fill="#555555">0.4</text>
<text x="73.2" y="905.6" font-size="17.80" text-anchor="end" fill="#555555">0.6</text>
<text x="73.2" y="845.0" font-size="17.80" text-anchor="end" fill="#555555">0.8</text>
<text x="73.2" y="784.5" font-size="17.80" text-anchor="end" fill="#555555">1</text>
<text x="73.2" y="723.9" font-size="17.80" text-anchor="end" fill="#555555">1.2</text>
<path d="M139.4 1081.3 v3.8 M207.1 1081.3 v6.5 M274.8 1081.3 v3.8 M342.5 1081.3 v6.5 M410.3 1081.3 v3.8 M478.0 1081.3 v6.5 M545.7 1081.3 v3.8 M613.4 1081.3 v6.5 M82.7 1081.3 h-6.5 M82.7 1051.0 h-3.8 M82.7 1020.7 h-6.5 M82.7 990.5 h-3.8 M82.7 960.2 h-6.5 M82.7 929.9 h-3.8 M82.7 899.6 h-6.5 M82.7 869.3 h-3.8 M82.7 839.1 h-6.5 M82.7 808.8 h-3.8 M82.7 778.5 h-6.5 M82.7 748.2 h-3.8 M82.7 717.9 h-6.5" fill="none" stroke="#3c3c3c" stroke-width="1.70"/>
<path d="M88.3 1079.6 L88.9 1079.2 L89.6 1078.6 L90.2 1077.8 L90.8 1076.9 L91.5 1075.9 L92.1 1074.7 L92.7 1073.3 L93.4 1071.7 L94.0 1069.9 L94.6 1067.9 L95.3 1065.7 L95.9 1063.3 L96.5 1060.6 L97.2 1057.8 L97.8 1054.8 L98.4 1051.5 L99.1 1048.1 L99.7 1044.5 L100.3 1040.7 L101.0 1036.8 L101.6 1032.6 L102.2 1028.3 L102.9 1023.9 L103.5 1019.4 L104.1 1014.7 L104.8 1009.9 L105.4 1005.0 L106.0 1000.0 L106.6 995.0 L107.3 989.9 L107.9 984.7 L108.5 979.5 L109.2 974.3 L109.8 969.1 L110.4 963.8 L111.1 958.6 L111.7 953.3 L112.3 948.1 L113.0 942.9 L113.6 937.8 L114.2 932.7 L114.9 927.7 L115.5 922.7 L116.1 917.8 L116.8 913.0 L117.4 908.2 L118.0 903.6 L118.7 899.0 L119.3 894.6 L119.9 890.2 L120.6 885.9 L121.2 881.8 L121.8 877.8 L122.5 873.9 L123.1 870.1 L123.7 866.4 L124.4 862.9 L125.0 859.4 L125.6 856.1 L126.3 853.0 L126.9 849.9 L127.5 847.0 L128.2 844.2 L128.8 841.5 L129.4 838.9 L130.1 836.5 L130.7 834.2 L131.3 832.0 L132.0 829.9 L132.6 827.9 L133.2 826.1 L133.9 824.3 L134.5 822.7 L135.1 821.2 L135.8 819.8 L136.4 818.5 L137.0 817.3 L137.7 816.2 L138.3 815.1 L138.9 814.2 L139.5 813.4 L140.2 812.7 L140.8 812.0 L141.4 811.5 L142.1 811.0 L142.7 810.6 L143.3 810.3 L144.0 810.1 L144.6 809.9 L145.2 809.8 L145.9 809.8 L146.5 809.8 L147.1 809.9 L147.8 810.1 L148.4 810.3 L149.0 810.6 L149.7 810.9 L150.3 811.3 L150.9 811.7 L151.6 812.2 L152.2 812.7 L152.8 813.3 L153.5 813.9 L154.1 814.6 L154.7 815.2 L155.4 816.0 L156.0 816.7 L156.6 817.5 L157.3 818.4 L157.9 819.2 L158.5 820.1 L159.2 821.0 L159.8 822.0 L160.4 822.9 L161.1 823.9 L161.7 824.9 L162.3 826.0 L163.0 827.0 L163.6 828.1 L164.2 829.2 L164.9 830.3 L165.5 831.4 L166.1 832.6 L166.8 833.7 L167.4 834.9 L168.0 836.0 L168.7 837.2 L169.3 838.4 L169.9 839.6 L170.6 840.8 L171.2 842.0 L171.8 843.3 L172.4 844.5 L173.1 845.7 L173.7 847.0 L174.3 848.2 L175.0 849.5 L175.6 850.7 L176.2 852.0 L176.9 853.2 L177.5 854.5 L178.1 855.8 L178.8 857.0 L179.4 858.3 L180.0 859.5 L180.7 860.8 L181.3 862.1 L181.9 863.3 L182.6 864.6 L183.2 865.9 L183.8 867.1 L184.5 868.4 L185.1 869.6 L185.7 870.9 L186.4 872.1 L187.0 873.4 L187.6 874.6 L188.3 875.9 L188.9 877.1 L189.5 878.4 L190.2 879.6 L190.8 880.8 L191.4 882.1 L192.1 883.3 L192.7 884.5 L193.3 885.7 L194.0 886.9 L194.6 888.1 L195.2 889.3 L195.9 890.5 L196.5 891.7 L197.1 892.9 L197.8 894.1 L198.4 895.2 L199.0 896.4 L199.7 897.6 L200.3 898.7 L200.9 899.9 L201.6 901.0 L202.2 902.2 L202.8 903.3 L203.5 904.4 L204.1 905.6 L204.7 906.7 L205.4 907.8 L206.0 908.9 L206.6 910.0 L207.2 911.1 L207.9 912.2 L208.5 913.3 L209.1 914.4 L209.8 915.4 L210.4 916.5 L211.0 917.6 L211.7 918.6 L212.3 919.7 L212.9 920.7 L213.6 921.7 L214.2 922.8 L214.8 923.8 L215.5 924.8 L216.1 925.8 L216.7 926.8 L217.4 927.8 L218.0 928.8 L218.6 929.8 L219.3 930.8 L219.9 931.8 L220.5 932.7 L221.2 933.7 L221.8 934.6 L222.4 935.6 L223.1 936.5 L223.7 937.5 L224.3 938.4 L225.0 939.3 L225.6 940.3 L226.2 941.2 L226.9 942.1 L227.5 943.0 L228.1 943.9 L228.8 944.8 L229.4 945.6 L230.0 946.5 L230.7 947.4 L231.3 948.2 L231.9 949.1 L232.6 950.0 L233.2 950.8 L233.8 951.6 L234.5 952.5 L235.1 953.3 L235.7 954.1 L238.6 957.7 L241.4 961.2 L244.2 964.6 L247.1 967.9 L249.9 971.1 L252.7 974.1 L255.6 977.1 L258.4 980.0 L261.2 982.7 L264.1 985.4 L266.9 988.0 L269.7 990.4 L272.6 992.8 L275.4 995.2 L278.2 997.4 L281.1 999.6 L283.9 1001.6 L286.7 1003.7 L289.6 1005.6 L292.4 1007.5 L295.2 1009.3 L298.1 1011.1 L300.9 1012.7 L303.7 1014.4 L306.6 1016.0 L309.4 1017.5 L312.2 1019.0 L315.1 1020.4 L317.9 1021.8 L320.8 1023.1 L323.6 1024.4 L326.4 1025.7 L329.3 1026.9 L332.1 1028.1 L334.9 1029.2 L337.8 1030.3 L340.6 1031.4 L343.4 1032.4 L346.3 1033.4 L349.1 1034.4 L351.9 1035.3 L354.8 1036.2 L357.6 1037.1 L360.4 1038.0 L363.3 1038.8 L366.1 1039.6 L368.9 1040.4 L371.8 1041.2 L374.6 1041.9 L377.4 1042.7 L380.3 1043.4 L383.1 1044.1 L385.9 1044.7 L388.8 1045.4 L391.6 1046.0 L394.4 1046.6 L397.3 1047.2 L400.1 1047.8 L403.0 1048.4 L405.8 1048.9 L408.6 1049.5 L411.5 1050.0 L414.3 1050.5 L417.1 1051.0 L420.0 1051.5 L422.8 1051.9 L425.6 1052.4 L428.5 1052.9 L431.3 1053.3 L434.1 1053.7 L437.0 1054.1 L439.8 1054.6 L442.6 1055.0 L445.5 1055.3 L448.3 1055.7 L451.1 1056.1 L454.0 1056.5 L456.8 1056.8 L459.6 1057.2 L462.5 1057.5 L465.3 1057.8 L468.1 1058.2 L471.0 1058.5 L473.8 1058.8 L476.6 1059.1 L479.5 1059.4 L482.3 1059.7 L485.2 1060.0 L488.0 1060.2 L490.8 1060.5 L493.7 1060.8 L496.5 1061.1 L499.3 1061.3 L502.2 1061.6 L505.0 1061.8 L507.8 1062.1 L510.7 1062.3 L513.5 1062.5 L516.3 1062.7 L519.2 1063.0 L522.0 1063.2 L524.8 1063.4 L527.7 1063.6 L530.5 1063.8 L533.3 1064.0 L536.2 1064.2 L539.0 1064.4 L541.8 1064.6 L544.7 1064.8 L547.5 1065.0 L550.3 1065.2 L553.2 1065.4 L556.0 1065.5 L558.8 1065.7 L561.7 1065.9 L564.5 1066.0 L567.3 1066.2 L570.2 1066.4 L573.0 1066.5 L575.9 1066.7 L578.7 1066.8 L581.5 1067.0 L584.4 1067.1 L587.2 1067.3 L590.0 1067.4 L592.9 1067.6 L595.7 1067.7 L598.5 1067.8 L601.4 1068.0 L604.2 1068.1 L607.0 1068.2 L609.9 1068.3 L612.7 1068.5" fill="none" stroke="#0000ff" stroke-width="4.00" stroke-linejoin="round" stroke-linecap="butt"/>
<path d="M86.3 1080.0 L86.9 1079.6 L87.6 1079.1 L88.2 1078.4 L88.9 1077.6 L89.5 1076.5 L90.1 1075.2 L90.8 1073.5 L91.4 1071.5 L92.1 1069.1 L92.7 1066.3 L93.4 1063.0 L94.0 1059.2 L94.6 1055.1 L95.3 1050.4 L95.9 1045.4 L96.6 1040.0 L97.2 1034.3 L97.8 1028.2 L98.5 1021.9 L99.1 1015.2 L99.8 1008.4 L100.4 1001.4 L101.0 994.1 L101.7 986.8 L102.3 979.3 L103.0 971.7 L103.6 964.0 L104.3 956.3 L104.9 948.5 L105.5 940.7 L106.2 932.8 L106.8 924.9 L107.5 917.1 L108.1 909.2 L108.7 901.4 L109.4 893.6 L110.0 885.8 L110.7 878.1 L111.3 870.5 L112.0 863.0 L112.6 855.5 L113.2 848.1 L113.9 840.8 L114.5 833.7 L115.2 826.6 L115.8 819.7 L116.4 812.9 L117.1 806.2 L117.7 799.7 L118.4 793.4 L119.0 787.2 L119.6 781.2 L120.3 775.3 L120.9 769.7 L121.6 764.2 L122.2 758.9 L122.9 753.8 L123.5 748.9 L124.1 744.1 L124.8 739.6 L125.4 735.3 L126.1 731.2 L126.7 727.2 L127.3 723.5 L128.0 720.0 L128.6 716.6 L129.3 713.5 L129.9 710.6 L130.5 707.8 L131.2 705.3 L131.8 702.9 L132.5 700.8 L133.1 698.8 L133.8 697.0 L134.4 695.4 L135.0 693.9 L135.7 692.7 L136.3 691.6 L137.0 690.6 L137.6 689.8 L138.2 689.2 L138.9 688.8 L139.5 688.4 L140.2 688.3 L140.8 688.2 L141.5 688.3 L142.1 688.6 L142.7 688.9 L143.4 689.4 L144.0 690.0 L144.7 690.7 L145.3 691.5 L145.9 692.4 L146.6 693.4 L147.2 694.5 L147.9 695.7 L148.5 697.0 L149.1 698.4 L149.8 699.8 L150.4 701.3 L151.1 702.9 L151.7 704.6 L152.4 706.3 L153.0 708.1 L153.6 709.9 L154.3 711.8 L154.9 713.8 L155.6 715.7 L156.2 717.8 L156.8 719.8 L157.5 721.9 L158.1 724.1 L158.8 726.3 L159.4 728.5 L160.0 730.7 L160.7 732.9 L161.3 735.2 L162.0 737.5 L162.6 739.8 L163.3 742.2 L163.9 744.5 L164.5 746.9 L165.2 749.3 L165.8 751.6 L166.5 754.0 L167.1 756.4 L167.7 758.8 L168.4 761.2 L169.0 763.6 L169.7 766.1 L170.3 768.5 L170.9 770.9 L171.6 773.3 L172.2 775.7 L172.9 778.1 L173.5 780.4 L174.2 782.8 L174.8 785.2 L175.4 787.6 L176.1 789.9 L176.7 792.3 L177.4 794.6 L178.0 796.9 L178.6 799.2 L179.3 801.5 L179.9 803.8 L180.6 806.1 L181.2 808.4 L181.9 810.6 L182.5 812.8 L183.1 815.1 L183.8 817.3 L184.4 819.5 L185.1 821.6 L185.7 823.8 L186.3 825.9 L187.0 828.1 L187.6 830.2 L188.3 832.3 L188.9 834.4 L189.5 836.4 L190.2 838.5 L190.8 840.5 L191.5 842.5 L192.1 844.5 L192.8 846.5 L193.4 848.4 L194.0 850.4 L194.7 852.3 L195.3 854.2 L196.0 856.1 L196.6 858.0 L197.2 859.8 L197.9 861.7 L198.5 863.5 L199.2 865.3 L199.8 867.1 L200.4 868.9 L201.1 870.6 L201.7 872.4 L202.4 874.1 L203.0 875.8 L203.7 877.5 L204.3 879.2 L204.9 880.8 L205.6 882.5 L206.2 884.1 L206.9 885.7 L207.5 887.3 L208.1 888.9 L208.8 890.4 L209.4 892.0 L210.1 893.5 L210.7 895.0 L211.4 896.5 L212.0 898.0 L212.6 899.5 L213.3 901.0 L213.9 902.4 L214.6 903.8 L215.2 905.2 L215.8 906.6 L216.5 908.0 L217.1 909.4 L217.8 910.8 L218.4 912.1 L219.0 913.4 L219.7 914.8 L220.3 916.1 L221.0 917.4 L221.6 918.6 L222.3 919.9 L222.9 921.2 L223.5 922.4 L224.2 923.6 L224.8 924.8 L225.5 926.0 L226.1 927.2 L226.7 928.4 L227.4 929.6 L228.0 930.7 L228.7 931.9 L229.3 933.0 L229.9 934.1 L230.6 935.3 L231.2 936.4 L231.9 937.4 L232.5 938.5 L233.2 939.6 L233.8 940.6 L234.4 941.7 L235.1 942.7 L235.7 943.8 L238.6 948.2 L241.4 952.4 L244.2 956.5 L247.1 960.3 L249.9 964.1 L252.7 967.6 L255.6 971.0 L258.4 974.3 L261.2 977.5 L264.1 980.5 L266.9 983.4 L269.7 986.2 L272.6 988.9 L275.4 991.5 L278.2 994.0 L281.1 996.4 L283.9 998.7 L286.7 1000.9 L289.6 1003.0 L292.4 1005.1 L295.2 1007.1 L298.1 1009.0 L300.9 1010.8 L303.7 1012.6 L306.6 1014.3 L309.4 1016.0 L312.2 1017.6 L315.1 1019.1 L317.9 1020.6 L320.8 1022.1 L323.6 1023.5 L326.4 1024.8 L329.3 1026.1 L332.1 1027.4 L334.9 1028.6 L337.8 1029.8 L340.6 1031.0 L343.4 1032.1 L346.3 1033.2 L349.1 1034.2 L351.9 1035.3 L354.8 1036.2 L357.6 1037.2 L360.4 1038.1 L363.3 1039.0 L366.1 1039.9 L368.9 1040.8 L371.8 1041.6 L374.6 1042.4 L377.4 1043.2 L380.3 1043.9 L383.1 1044.7 L385.9 1045.4 L388.8 1046.1 L391.6 1046.8 L394.4 1047.4 L397.3 1048.1 L400.1 1048.7 L403.0 1049.3 L405.8 1049.9 L408.6 1050.5 L411.5 1051.0 L414.3 1051.6 L417.1 1052.1 L420.0 1052.6 L422.8 1053.1 L425.6 1053.6 L428.5 1054.1 L431.3 1054.6 L434.1 1055.0 L437.0 1055.5 L439.8 1055.9 L442.6 1056.3 L445.5 1056.8 L448.3 1057.2 L451.1 1057.6 L454.0 1057.9 L456.8 1058.3 L459.6 1058.7 L462.5 1059.1 L465.3 1059.4 L468.1 1059.7 L471.0 1060.1 L473.8 1060.4 L476.6 1060.7 L479.5 1061.0 L482.3 1061.3 L485.2 1061.6 L488.0 1061.9 L490.8 1062.2 L493.7 1062.5 L496.5 1062.8 L499.3 1063.0 L502.2 1063.3 L505.0 1063.6 L507.8 1063.8 L510.7 1064.1 L513.5 1064.3 L516.3 1064.5 L519.2 1064.8 L522.0 1065.0 L524.8 1065.2 L527.7 1065.4 L530.5 1065.7 L533.3 1065.9 L536.2 1066.1 L539.0 1066.3 L541.8 1066.5 L544.7 1066.7 L547.5 1066.8 L550.3 1067.0 L553.2 1067.2 L556.0 1067.4 L558.8 1067.6 L561.7 1067.7 L564.5 1067.9 L567.3 1068.1 L570.2 1068.2 L573.0 1068.4 L575.9 1068.5 L578.7 1068.7 L581.5 1068.8 L584.4 1069.0 L587.2 1069.1 L590.0 1069.3 L592.9 1069.4 L595.7 1069.6 L598.5 1069.7 L601.4 1069.8 L604.2 1070.0 L607.0 1070.1 L609.9 1070.2 L612.7 1070.3" fill="none" stroke="#ff0000" stroke-width="4.00" stroke-linejoin="round" stroke-linecap="butt"/>
<path d="M93.3 1079.2 L93.9 1078.8 L94.5 1078.3 L95.1 1077.8 L95.7 1077.1 L96.4 1076.5 L97.0 1075.7 L97.6 1074.9 L98.2 1073.9 L98.8 1072.9 L99.4 1071.8 L100.0 1070.6 L100.6 1069.3 L101.2 1067.9 L101.9 1066.4 L102.5 1064.8 L103.1 1063.1 L103.7 1061.3 L104.3 1059.4 L104.9 1057.4 L105.5 1055.4 L106.1 1053.2 L106.7 1050.9 L107.4 1048.5 L108.0 1046.1 L108.6 1043.6 L109.2 1040.9 L109.8 1038.2 L110.4 1035.4 L111.0 1032.6 L111.6 1029.6 L112.2 1026.6 L112.9 1023.6 L113.5 1020.4 L114.1 1017.2 L114.7 1014.0 L115.3 1010.7 L115.9 1007.3 L116.5 1003.9 L117.1 1000.5 L117.7 997.0 L118.4 993.5 L119.0 989.9 L119.6 986.4 L120.2 982.8 L120.8 979.2 L121.4 975.6 L122.0 971.9 L122.6 968.3 L123.3 964.6 L123.9 961.0 L124.5 957.3 L125.1 953.7 L125.7 950.1 L126.3 946.4 L126.9 942.8 L127.5 939.3 L128.1 935.7 L128.8 932.1 L129.4 928.6 L130.0 925.1 L130.6 921.7 L131.2 918.2 L131.8 914.9 L132.4 911.5 L133.0 908.2 L133.6 904.9 L134.3 901.7 L134.9 898.5 L135.5 895.4 L136.1 892.3 L136.7 889.2 L137.3 886.2 L137.9 883.3 L138.5 880.4 L139.1 877.6 L139.8 874.8 L140.4 872.1 L141.0 869.5 L141.6 866.9 L142.2 864.3 L142.8 861.8 L143.4 859.4 L144.0 857.0 L144.6 854.7 L145.3 852.5 L145.9 850.3 L146.5 848.2 L147.1 846.1 L147.7 844.1 L148.3 842.2 L148.9 840.3 L149.5 838.5 L150.1 836.7 L150.8 835.0 L151.4 833.4 L152.0 831.8 L152.6 830.3 L153.2 828.8 L153.8 827.4 L154.4 826.0 L155.0 824.8 L155.6 823.5 L156.3 822.3 L156.9 821.2 L157.5 820.1 L158.1 819.1 L158.7 818.2 L159.3 817.2 L159.9 816.4 L160.5 815.6 L161.1 814.8 L161.8 814.1 L162.4 813.4 L163.0 812.8 L163.6 812.2 L164.2 811.7 L164.8 811.2 L165.4 810.8 L166.0 810.4 L166.6 810.0 L167.3 809.7 L167.9 809.4 L168.5 809.2 L169.1 809.0 L169.7 808.8 L170.3 808.7 L170.9 808.6 L171.5 808.6 L172.2 808.6 L172.8 808.6 L173.4 808.6 L174.0 808.7 L174.6 808.8 L175.2 808.9 L175.8 809.1 L176.4 809.3 L177.0 809.5 L177.7 809.8 L178.3 810.1 L178.9 810.4 L179.5 810.7 L180.1 811.0 L180.7 811.4 L181.3 811.8 L181.9 812.2 L182.5 812.7 L183.2 813.1 L183.8 813.6 L184.4 814.1 L185.0 814.6 L185.6 815.2 L186.2 815.7 L186.8 816.3 L187.4 816.9 L188.0 817.5 L188.7 818.1 L189.3 818.8 L189.9 819.4 L190.5 820.1 L191.1 820.7 L191.7 821.4 L192.3 822.1 L192.9 822.8 L193.5 823.6 L194.2 824.3 L194.8 825.0 L195.4 825.8 L196.0 826.6 L196.6 827.3 L197.2 828.1 L197.8 828.9 L198.4 829.7 L199.0 830.5 L199.7 831.3 L200.3 832.2 L200.9 833.0 L201.5 833.8 L202.1 834.7 L202.7 835.5 L203.3 836.4 L203.9 837.2 L204.5 838.1 L205.2 839.0 L205.8 839.8 L206.4 840.7 L207.0 841.6 L207.6 842.5 L208.2 843.4 L208.8 844.3 L209.4 845.2 L210.0 846.1 L210.7 847.0 L211.3 847.9 L211.9 848.8 L212.5 849.7 L213.1 850.6 L213.7 851.5 L214.3 852.5 L214.9 853.4 L215.5 854.3 L216.2 855.2 L216.8 856.1 L217.4 857.1 L218.0 858.0 L218.6 858.9 L219.2 859.8 L219.8 860.8 L220.4 861.7 L221.1 862.6 L221.7 863.5 L222.3 864.5 L222.9 865.4 L223.5 866.3 L224.1 867.2 L224.7 868.2 L225.3 869.1 L225.9 870.0 L226.6 870.9 L227.2 871.8 L227.8 872.8 L228.4 873.7 L229.0 874.6 L229.6 875.5 L230.2 876.4 L230.8 877.3 L231.4 878.2 L232.1 879.2 L232.7 880.1 L233.3 881.0 L233.9 881.9 L234.5 882.8 L235.1 883.7 L235.7 884.6 L238.6 888.7 L241.4 892.8 L244.2 896.8 L247.1 900.8 L249.9 904.7 L252.7 908.5 L255.6 912.2 L258.4 915.9 L261.2 919.5 L264.1 923.1 L266.9 926.5 L269.7 929.9 L272.6 933.2 L275.4 936.5 L278.2 939.6 L281.1 942.7 L283.9 945.7 L286.7 948.6 L289.6 951.5 L292.4 954.3 L295.2 957.0 L298.1 959.6 L300.9 962.2 L303.7 964.7 L306.6 967.1 L309.4 969.5 L312.2 971.8 L315.1 974.1 L317.9 976.2 L320.8 978.4 L323.6 980.4 L326.4 982.5 L329.3 984.4 L332.1 986.3 L334.9 988.2 L337.8 990.0 L340.6 991.8 L343.4 993.5 L346.3 995.2 L349.1 996.8 L351.9 998.4 L354.8 999.9 L357.6 1001.4 L360.4 1002.9 L363.3 1004.3 L366.1 1005.7 L368.9 1007.0 L371.8 1008.3 L374.6 1009.6 L377.4 1010.9 L380.3 1012.1 L383.1 1013.3 L385.9 1014.4 L388.8 1015.6 L391.6 1016.7 L394.4 1017.7 L397.3 1018.8 L400.1 1019.8 L403.0 1020.8 L405.8 1021.8 L408.6 1022.7 L411.5 1023.7 L414.3 1024.6 L417.1 1025.5 L420.0 1026.3 L422.8 1027.2 L425.6 1028.0 L428.5 1028.8 L431.3 1029.6 L434.1 1030.4 L437.0 1031.1 L439.8 1031.9 L442.6 1032.6 L445.5 1033.3 L448.3 1034.0 L451.1 1034.6 L454.0 1035.3 L456.8 1035.9 L459.6 1036.6 L462.5 1037.2 L465.3 1037.8 L468.1 1038.4 L471.0 1039.0 L473.8 1039.5 L476.6 1040.1 L479.5 1040.6 L482.3 1041.2 L485.2 1041.7 L488.0 1042.2 L490.8 1042.7 L493.7 1043.2 L496.5 1043.7 L499.3 1044.2 L502.2 1044.6 L505.0 1045.1 L507.8 1045.5 L510.7 1046.0 L513.5 1046.4 L516.3 1046.8 L519.2 1047.2 L522.0 1047.6 L524.8 1048.0 L527.7 1048.4 L530.5 1048.8 L533.3 1049.2 L536.2 1049.5 L539.0 1049.9 L541.8 1050.3 L544.7 1050.6 L547.5 1051.0 L550.3 1051.3 L553.2 1051.6 L556.0 1052.0 L558.8 1052.3 L561.7 1052.6 L564.5 1052.9 L567.3 1053.2 L570.2 1053.5 L573.0 1053.8 L575.9 1054.1 L578.7 1054.4 L581.5 1054.6 L584.4 1054.9 L587.2 1055.2 L590.0 1055.5 L592.9 1055.7 L595.7 1056.0 L598.5 1056.2 L601.4 1056.5 L604.2 1056.7 L607.0 1057.0 L609.9 1057.2 L612.7 1057.4" fill="none" stroke="#000000" stroke-width="4.00" stroke-linejoin="round" stroke-linecap="butt"/>
<path d="M89.3 1080.9 L89.9 1080.8 L90.6 1080.8 L91.2 1080.7 L91.8 1080.7 L92.4 1080.6 L93.1 1080.5 L93.7 1080.3 L94.3 1080.1 L95.0 1079.9 L95.6 1079.6 L96.2 1079.2 L96.8 1078.8 L97.5 1078.3 L98.1 1077.7 L98.7 1077.1 L99.4 1076.4 L100.0 1075.6 L100.6 1074.7 L101.2 1073.7 L101.9 1072.6 L102.5 1071.4 L103.1 1070.0 L103.8 1068.6 L104.4 1067.1 L105.0 1065.5 L105.6 1063.7 L106.3 1061.9 L106.9 1059.9 L107.5 1057.9 L108.2 1055.7 L108.8 1053.5 L109.4 1051.1 L110.0 1048.6 L110.7 1046.1 L111.3 1043.5 L111.9 1040.7 L112.6 1037.9 L113.2 1035.1 L113.8 1032.1 L114.4 1029.1 L115.1 1026.0 L115.7 1022.9 L116.3 1019.7 L117.0 1016.4 L117.6 1013.1 L118.2 1009.8 L118.8 1006.4 L119.5 1003.0 L120.1 999.5 L120.7 996.1 L121.3 992.6 L122.0 989.1 L122.6 985.6 L123.2 982.1 L123.9 978.5 L124.5 975.0 L125.1 971.5 L125.7 968.0 L126.4 964.5 L127.0 961.0 L127.6 957.6 L128.3 954.1 L128.9 950.7 L129.5 947.4 L130.1 944.0 L130.8 940.7 L131.4 937.4 L132.0 934.2 L132.7 931.0 L133.3 927.8 L133.9 924.7 L134.5 921.6 L135.2 918.6 L135.8 915.7 L136.4 912.7 L137.1 909.9 L137.7 907.1 L138.3 904.3 L138.9 901.6 L139.6 899.0 L140.2 896.4 L140.8 893.9 L141.5 891.4 L142.1 889.0 L142.7 886.6 L143.3 884.3 L144.0 882.1 L144.6 879.9 L145.2 877.8 L145.9 875.8 L146.5 873.8 L147.1 871.9 L147.7 870.0 L148.4 868.2 L149.0 866.5 L149.6 864.8 L150.3 863.1 L150.9 861.6 L151.5 860.1 L152.1 858.6 L152.8 857.2 L153.4 855.9 L154.0 854.6 L154.7 853.4 L155.3 852.2 L155.9 851.1 L156.5 850.0 L157.2 849.0 L157.8 848.0 L158.4 847.1 L159.1 846.2 L159.7 845.4 L160.3 844.7 L160.9 843.9 L161.6 843.3 L162.2 842.6 L162.8 842.0 L163.5 841.5 L164.1 841.0 L164.7 840.5 L165.3 840.1 L166.0 839.8 L166.6 839.4 L167.2 839.1 L167.9 838.8 L168.5 838.6 L169.1 838.4 L169.7 838.3 L170.4 838.1 L171.0 838.0 L171.6 838.0 L172.3 837.9 L172.9 837.9 L173.5 837.9 L174.1 838.0 L174.8 838.1 L175.4 838.2 L176.0 838.3 L176.6 838.4 L177.3 838.6 L177.9 838.8 L178.5 839.0 L179.2 839.2 L179.8 839.5 L180.4 839.8 L181.0 840.0 L181.7 840.4 L182.3 840.7 L182.9 841.0 L183.6 841.4 L184.2 841.7 L184.8 842.1 L185.4 842.5 L186.1 842.9 L186.7 843.4 L187.3 843.8 L188.0 844.3 L188.6 844.8 L189.2 845.2 L189.8 845.7 L190.5 846.2 L191.1 846.8 L191.7 847.3 L192.4 847.9 L193.0 848.4 L193.6 849.0 L194.2 849.6 L194.9 850.2 L195.5 850.9 L196.1 851.5 L196.8 852.2 L197.4 852.8 L198.0 853.5 L198.6 854.2 L199.3 854.9 L199.9 855.7 L200.5 856.4 L201.2 857.2 L201.8 858.0 L202.4 858.8 L203.0 859.6 L203.7 860.4 L204.3 861.3 L204.9 862.1 L205.6 863.0 L206.2 863.8 L206.8 864.7 L207.4 865.6 L208.1 866.5 L208.7 867.4 L209.3 868.4 L210.0 869.3 L210.6 870.2 L211.2 871.2 L211.8 872.1 L212.5 873.1 L213.1 874.0 L213.7 875.0 L214.4 876.0 L215.0 876.9 L215.6 877.9 L216.2 878.9 L216.9 879.8 L217.5 880.8 L218.1 881.8 L218.8 882.7 L219.4 883.7 L220.0 884.7 L220.6 885.6 L221.3 886.6 L221.9 887.6 L222.5 888.5 L223.2 889.5 L223.8 890.4 L224.4 891.4 L225.0 892.3 L225.7 893.2 L226.3 894.2 L226.9 895.1 L227.6 896.0 L228.2 896.9 L228.8 897.9 L229.4 898.8 L230.1 899.7 L230.7 900.6 L231.3 901.5 L231.9 902.4 L232.6 903.3 L233.2 904.1 L233.8 905.0 L234.5 905.9 L235.1 906.8 L235.7 907.6 L238.6 911.5 L241.4 915.3 L244.2 918.9 L247.1 922.5 L249.9 926.0 L252.7 929.4 L255.6 932.7 L258.4 936.0 L261.2 939.1 L264.1 942.2 L266.9 945.2 L269.7 948.2 L272.6 951.0 L275.4 953.8 L278.2 956.5 L281.1 959.1 L283.9 961.7 L286.7 964.2 L289.6 966.6 L292.4 969.0 L295.2 971.3 L298.1 973.5 L300.9 975.7 L303.7 977.9 L306.6 979.9 L309.4 982.0 L312.2 983.9 L315.1 985.8 L317.9 987.7 L320.8 989.5 L323.6 991.3 L326.4 993.0 L329.3 994.7 L332.1 996.3 L334.9 997.9 L337.8 999.4 L340.6 1000.9 L343.4 1002.4 L346.3 1003.9 L349.1 1005.2 L351.9 1006.6 L354.8 1007.9 L357.6 1009.2 L360.4 1010.5 L363.3 1011.7 L366.1 1012.9 L368.9 1014.1 L371.8 1015.2 L374.6 1016.4 L377.4 1017.5 L380.3 1018.5 L383.1 1019.6 L385.9 1020.6 L388.8 1021.6 L391.6 1022.5 L394.4 1023.5 L397.3 1024.4 L400.1 1025.3 L403.0 1026.2 L405.8 1027.0 L408.6 1027.9 L411.5 1028.7 L414.3 1029.5 L417.1 1030.3 L420.0 1031.0 L422.8 1031.8 L425.6 1032.5 L428.5 1033.3 L431.3 1034.0 L434.1 1034.6 L437.0 1035.3 L439.8 1036.0 L442.6 1036.6 L445.5 1037.3 L448.3 1037.9 L451.1 1038.5 L454.0 1039.1 L456.8 1039.7 L459.6 1040.2 L462.5 1040.8 L465.3 1041.3 L468.1 1041.9 L471.0 1042.4 L473.8 1042.9 L476.6 1043.4 L479.5 1043.9 L482.3 1044.4 L485.2 1044.9 L488.0 1045.3 L490.8 1045.8 L493.7 1046.2 L496.5 1046.7 L499.3 1047.1 L502.2 1047.5 L505.0 1047.9 L507.8 1048.4 L510.7 1048.8 L513.5 1049.2 L516.3 1049.5 L519.2 1049.9 L522.0 1050.3 L524.8 1050.7 L527.7 1051.0 L530.5 1051.4 L533.3 1051.7 L536.2 1052.1 L539.0 1052.4 L541.8 1052.7 L544.7 1053.0 L547.5 1053.4 L550.3 1053.7 L553.2 1054.0 L556.0 1054.3 L558.8 1054.6 L561.7 1054.9 L564.5 1055.2 L567.3 1055.4 L570.2 1055.7 L573.0 1056.0 L575.9 1056.3 L578.7 1056.5 L581.5 1056.8 L584.4 1057.0 L587.2 1057.3 L590.0 1057.5 L592.9 1057.8 L595.7 1058.0 L598.5 1058.3 L601.4 1058.5 L604.2 1058.7 L607.0 1059.0 L609.9 1059.2 L612.7 1059.4" fill="none" stroke="#00ff00" stroke-width="4.00" stroke-linejoin="round" stroke-linecap="butt"/>
<text x="29.2" y="892.0" font-size="17.80" text-anchor="middle" fill="#555555">Cv`</text>
<text x="343.1" y="1138.3" font-size="17.80" text-anchor="middle" fill="#555555">T</text>
<rect x="176.4" y="1158.4" width="334.2" height="96.7" fill="#fff" stroke="#3c3c3c" stroke-width="1.40"/>
<path d="M181.1 1171.8 H226.7" stroke="#0000ff" stroke-width="4.20"/>
<text x="234.3" y="1179.0" font-size="19.80" text-anchor="start" fill="#262626" textLength="269.9" lengthAdjust="spacing" stroke="#262626" stroke-width="0.30">Specific heat,a=0.95,b=0.9,c=0.9</text>
<path d="M181.1 1195.2 H226.7" stroke="#ff0000" stroke-width="4.20"/>
<text x="234.3" y="1202.3" font-size="19.80" text-anchor="start" fill="#262626" textLength="167.0" lengthAdjust="spacing" stroke="#262626" stroke-width="0.30">a=1.45, b=0.9, c=0.9</text>
<path d="M181.1 1218.4 H226.7" stroke="#000000" stroke-width="4.20"/>
<text x="234.3" y="1225.5" font-size="19.80" text-anchor="start" fill="#262626" textLength="167.0" lengthAdjust="spacing" stroke="#262626" stroke-width="0.30">a=0.95, b=1.4, c=0.9</text>
<path d="M181.1 1241.8 H226.7" stroke="#00ff00" stroke-width="4.20"/>
<text x="234.3" y="1249.0" font-size="19.80" text-anchor="start" fill="#262626" textLength="158.0" lengthAdjust="spacing" stroke="#262626" stroke-width="0.30">a=0.95,b=0.9,c=1.4</text>
<text class="cap" x="332.3" y="1330.5" font-size="28.0" text-anchor="middle" fill="#1a1a1a">(<tspan font-weight="bold">e</tspan>)</text>
</g>
<g class="panel" aria-label="Figure panel f">
<path d="M793.1 694.5 V1131.6 H1379.0" fill="none" stroke="#3c3c3c" stroke-width="2.10" stroke-linecap="square"/>
<text x="928.0" y="1158.6" font-size="20.50" text-anchor="middle" fill="#4c4c4c">1</text>
<text x="1077.6" y="1158.6" font-size="20.50" text-anchor="middle" fill="#4c4c4c">2</text>
<text x="1227.3" y="1158.6" font-size="20.50" text-anchor="middle" fill="#4c4c4c">3</text>
<text x="1377.0" y="1158.6" font-size="20.50" text-anchor="middle" fill="#4c4c4c">4</text>
<text x="783.6" y="1138.5" font-size="20.50" text-anchor="end" fill="#4c4c4c">0</text>
<text x="783.6" y="1089.8" font-size="20.50" text-anchor="end" fill="#4c4c4c">0.1</text>
<text x="783.6" y="1041.1" font-size="20.50" text-anchor="end" fill="#4c4c4c">0.2</text>
<text x="783.6" y="992.4" font-size="20.50" text-anchor="end" fill="#4c4c4c">0.3</text>
<text x="783.6" y="943.7" font-size="20.50" text-anchor="end" fill="#4c4c4c">0.4</text>
<text x="783.6" y="895.0" font-size="20.50" text-anchor="end" fill="#4c4c4c">0.5</text>
<text x="783.6" y="846.3" font-size="20.50" text-anchor="end" fill="#4c4c4c">0.6</text>
<text x="783.6" y="797.6" font-size="20.50" text-anchor="end" fill="#4c4c4c">0.7</text>
<text x="783.6" y="748.9" font-size="20.50" text-anchor="end" fill="#4c4c4c">0.8</text>
<path d="M855.2 1131.6 v4.0 M930.0 1131.6 v7.0 M1004.8 1131.6 v4.0 M1079.7 1131.6 v7.0 M1154.5 1131.6 v4.0 M1229.3 1131.6 v7.0 M1304.2 1131.6 v4.0 M1379.0 1131.6 v7.0 M793.1 1131.6 h-7.0 M793.1 1107.2 h-4.0 M793.1 1082.9 h-7.0 M793.1 1058.5 h-4.0 M793.1 1034.2 h-7.0 M793.1 1009.8 h-4.0 M793.1 985.5 h-7.0 M793.1 961.1 h-4.0 M793.1 936.8 h-7.0 M793.1 912.4 h-4.0 M793.1 888.1 h-7.0 M793.1 863.7 h-4.0 M793.1 839.4 h-7.0 M793.1 815.0 h-4.0 M793.1 790.7 h-7.0 M793.1 766.3 h-4.0 M793.1 742.0 h-7.0 M793.1 717.6 h-4.0" fill="none" stroke="#3c3c3c" stroke-width="1.80"/>
<path d="M795.5 1131.9 L796.2 1131.9 L796.9 1131.9 L797.6 1131.9 L798.3 1131.9 L799.0 1131.8 L799.7 1131.8 L800.5 1131.7 L801.2 1131.7 L801.9 1131.6 L802.6 1131.4 L803.3 1131.2 L804.0 1131.0 L804.7 1130.7 L805.4 1130.3 L806.1 1129.9 L806.8 1129.3 L807.5 1128.7 L808.2 1127.9 L808.9 1127.0 L809.6 1126.0 L810.4 1124.9 L811.1 1123.6 L811.8 1122.1 L812.5 1120.5 L813.2 1118.7 L813.9 1116.7 L814.6 1114.6 L815.3 1112.2 L816.0 1109.7 L816.7 1107.0 L817.4 1104.1 L818.1 1101.0 L818.8 1097.8 L819.5 1094.3 L820.3 1090.6 L821.0 1086.8 L821.7 1082.8 L822.4 1078.6 L823.1 1074.2 L823.8 1069.7 L824.5 1065.0 L825.2 1060.2 L825.9 1055.2 L826.6 1050.0 L827.3 1044.8 L828.0 1039.4 L828.7 1033.8 L829.4 1028.2 L830.2 1022.5 L830.9 1016.7 L831.6 1010.7 L832.3 1004.8 L833.0 998.7 L833.7 992.6 L834.4 986.4 L835.1 980.1 L835.8 973.9 L836.5 967.6 L837.2 961.3 L837.9 954.9 L838.6 948.6 L839.3 942.2 L840.1 935.9 L840.8 929.5 L841.5 923.2 L842.2 916.9 L842.9 910.7 L843.6 904.4 L844.3 898.2 L845.0 892.1 L845.7 886.0 L846.4 880.0 L847.1 874.0 L847.8 868.1 L848.5 862.3 L849.2 856.5 L850.0 850.9 L850.7 845.3 L851.4 839.8 L852.1 834.3 L852.8 829.0 L853.5 823.8 L854.2 818.6 L854.9 813.6 L855.6 808.6 L856.3 803.8 L857.0 799.0 L857.7 794.4 L858.4 789.9 L859.1 785.4 L859.9 781.1 L860.6 776.9 L861.3 772.8 L862.0 768.8 L862.7 764.9 L863.4 761.1 L864.1 757.5 L864.8 753.9 L865.5 750.5 L866.2 747.1 L866.9 743.9 L867.6 740.8 L868.3 737.8 L869.0 734.9 L869.8 732.1 L870.5 729.4 L871.2 726.8 L871.9 724.4 L872.6 722.0 L873.3 719.7 L874.0 717.6 L874.7 715.5 L875.4 713.6 L876.1 711.8 L876.8 710.0 L877.5 708.4 L878.2 706.9 L879.0 705.5 L879.7 704.2 L880.4 703.0 L881.1 701.8 L881.8 700.8 L882.5 699.9 L883.2 699.0 L883.9 698.2 L884.6 697.5 L885.3 696.8 L886.0 696.2 L886.7 695.7 L887.4 695.3 L888.1 694.9 L888.9 694.6 L889.6 694.3 L890.3 694.1 L891.0 694.0 L891.7 693.9 L892.4 693.9 L893.1 693.9 L893.8 694.0 L894.5 694.2 L895.2 694.4 L895.9 694.6 L896.6 694.9 L897.3 695.2 L898.0 695.6 L898.8 696.1 L899.5 696.6 L900.2 697.1 L900.9 697.7 L901.6 698.3 L902.3 698.9 L903.0 699.6 L903.7 700.4 L904.4 701.2 L905.1 702.0 L905.8 702.8 L906.5 703.7 L907.2 704.6 L907.9 705.6 L908.7 706.6 L909.4 707.6 L910.1 708.6 L910.8 709.7 L911.5 710.8 L912.2 711.9 L912.9 713.1 L913.6 714.2 L914.3 715.4 L915.0 716.7 L915.7 717.9 L916.4 719.2 L917.1 720.4 L917.8 721.8 L918.6 723.1 L919.3 724.4 L920.0 725.8 L920.7 727.2 L921.4 728.5 L922.1 729.9 L922.8 731.4 L923.5 732.8 L924.2 734.3 L924.9 735.7 L925.6 737.2 L926.3 738.7 L927.0 740.2 L927.7 741.7 L928.5 743.2 L929.2 744.7 L929.9 746.2 L930.6 747.8 L931.3 749.3 L932.0 750.9 L932.7 752.4 L933.4 754.0 L934.1 755.6 L934.8 757.1 L935.5 758.7 L936.2 760.3 L936.9 761.9 L937.6 763.5 L938.4 765.1 L939.1 766.7 L939.8 768.2 L940.5 769.8 L941.2 771.5 L941.9 773.1 L942.6 774.7 L943.3 776.3 L944.0 777.9 L944.7 779.5 L945.4 781.1 L946.1 782.7 L946.8 784.3 L947.6 785.9 L948.3 787.5 L949.0 789.1 L949.7 790.7 L950.4 792.3 L951.1 793.9 L951.8 795.4 L952.5 797.0 L953.2 798.6 L953.9 800.2 L954.6 801.8 L955.3 803.3 L956.0 804.9 L956.7 806.5 L957.5 808.0 L958.2 809.6 L958.9 811.2 L959.6 812.7 L960.3 814.3 L963.4 821.1 L966.6 827.8 L969.7 834.4 L972.8 840.9 L976.0 847.2 L979.1 853.5 L982.3 859.6 L985.4 865.6 L988.6 871.4 L991.7 877.1 L994.8 882.7 L998.0 888.2 L1001.1 893.5 L1004.3 898.7 L1007.4 903.8 L1010.5 908.7 L1013.7 913.5 L1016.8 918.2 L1020.0 922.8 L1023.1 927.2 L1026.3 931.6 L1029.4 935.8 L1032.5 939.9 L1035.7 943.9 L1038.8 947.8 L1042.0 951.6 L1045.1 955.3 L1048.2 958.9 L1051.4 962.4 L1054.5 965.8 L1057.7 969.2 L1060.8 972.4 L1063.9 975.6 L1067.1 978.6 L1070.2 981.6 L1073.4 984.5 L1076.5 987.4 L1079.7 990.1 L1082.8 992.8 L1085.9 995.4 L1089.1 998.0 L1092.2 1000.5 L1095.4 1002.9 L1098.5 1005.3 L1101.6 1007.6 L1104.8 1009.9 L1107.9 1012.0 L1111.1 1014.2 L1114.2 1016.3 L1117.4 1018.3 L1120.5 1020.3 L1123.6 1022.2 L1126.8 1024.1 L1129.9 1026.0 L1133.1 1027.7 L1136.2 1029.5 L1139.3 1031.2 L1142.5 1032.9 L1145.6 1034.5 L1148.8 1036.1 L1151.9 1037.7 L1155.1 1039.2 L1158.2 1040.6 L1161.3 1042.1 L1164.5 1043.5 L1167.6 1044.9 L1170.8 1046.2 L1173.9 1047.5 L1177.0 1048.8 L1180.2 1050.1 L1183.3 1051.3 L1186.5 1052.5 L1189.6 1053.6 L1192.8 1054.8 L1195.9 1055.9 L1199.0 1057.0 L1202.2 1058.0 L1205.3 1059.1 L1208.5 1060.1 L1211.6 1061.1 L1214.7 1062.0 L1217.9 1063.0 L1221.0 1063.9 L1224.2 1064.8 L1227.3 1065.7 L1230.4 1066.6 L1233.6 1067.4 L1236.7 1068.2 L1239.9 1069.1 L1243.0 1069.8 L1246.2 1070.6 L1249.3 1071.4 L1252.4 1072.1 L1255.6 1072.9 L1258.7 1073.6 L1261.9 1074.3 L1265.0 1075.0 L1268.1 1075.7 L1271.3 1076.3 L1274.4 1077.0 L1277.6 1077.6 L1280.7 1078.3 L1283.9 1078.9 L1287.0 1079.5 L1290.1 1080.1 L1293.3 1080.7 L1296.4 1081.3 L1299.6 1081.9 L1302.7 1082.4 L1305.8 1083.0 L1309.0 1083.5 L1312.1 1084.1 L1315.3 1084.6 L1318.4 1085.1 L1321.6 1085.6 L1324.7 1086.1 L1327.8 1086.6 L1331.0 1087.1 L1334.1 1087.6 L1337.3 1088.1 L1340.4 1088.6 L1343.5 1089.0 L1346.7 1089.5 L1349.8 1089.9 L1353.0 1090.4 L1356.1 1090.8 L1359.3 1091.3 L1362.4 1091.7 L1365.5 1092.1 L1368.7 1092.5 L1371.8 1092.9 L1375.0 1093.3 L1378.1 1093.7" fill="none" stroke="#000000" stroke-width="4.30" stroke-linejoin="round" stroke-linecap="butt"/>
<text x="737.0" y="918.5" font-size="20.50" text-anchor="middle" fill="#4c4c4c">Cv`</text>
<text x="1080.3" y="1188.9" font-size="20.50" text-anchor="middle" fill="#4c4c4c">T</text>
<rect x="946.0" y="1210.2" width="258.5" height="31.1" fill="#fff" stroke="#3c3c3c" stroke-width="1.60"/>
<path d="M952.3 1225.4 H1002.5" stroke="#000000" stroke-width="4.70"/>
<text x="1011.4" y="1232.8" font-size="21.50" text-anchor="start" fill="#262626" textLength="185.6" lengthAdjust="spacing" stroke="#262626" stroke-width="0.30">a=0.95, b=1.4, c=0.9</text>
<text class="cap" x="1060.9" y="1329.3" font-size="28.0" text-anchor="middle" fill="#1a1a1a">(<tspan font-weight="bold">f</tspan>)</text>
</g>
</svg>
</body></html>
